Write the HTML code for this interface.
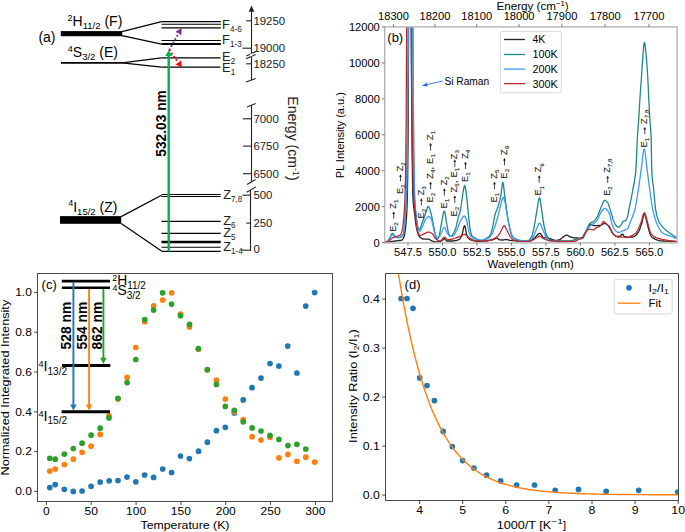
<!DOCTYPE html><html><head><meta charset="utf-8"><style>html,body{margin:0;padding:0;background:#fff;overflow:hidden}svg{display:block}text{font-family:"Liberation Sans",sans-serif}</style></head><body>
<svg width="685" height="532" viewBox="0 0 685 532">
<rect width="685" height="532" fill="#fff"/>
<rect x="60.8" y="31.1" width="61.4" height="5.1" fill="#000" />
<line x1="122" y1="31.6" x2="161.5" y2="21.7" stroke="#000" stroke-width="1.2" />
<line x1="122" y1="35.6" x2="161.5" y2="44.2" stroke="#000" stroke-width="1.2" />
<line x1="161.5" y1="21.6" x2="220.9" y2="21.6" stroke="#000" stroke-width="1.1" />
<line x1="161.5" y1="24.3" x2="220.9" y2="24.3" stroke="#000" stroke-width="1.1" />
<line x1="161.5" y1="27.8" x2="220.9" y2="27.8" stroke="#000" stroke-width="1.3" />
<line x1="161.5" y1="40.5" x2="220.9" y2="40.5" stroke="#000" stroke-width="1.2" />
<line x1="161.5" y1="44" x2="220.9" y2="44" stroke="#000" stroke-width="2" />
<line x1="61" y1="62.9" x2="122" y2="62.9" stroke="#000" stroke-width="1.6" />
<line x1="122" y1="62.9" x2="161.5" y2="57.8" stroke="#000" stroke-width="1.2" />
<line x1="122" y1="62.9" x2="161.5" y2="67.1" stroke="#000" stroke-width="1.2" />
<line x1="161.5" y1="57.8" x2="220.5" y2="57.8" stroke="#000" stroke-width="1.2" />
<line x1="161.5" y1="67.1" x2="220.5" y2="67.1" stroke="#000" stroke-width="1.2" />
<rect x="60" y="216.1" width="61.2" height="7.7" fill="#000" />
<line x1="121.2" y1="216.6" x2="161.5" y2="195.2" stroke="#000" stroke-width="1.2" />
<line x1="121.2" y1="223.4" x2="161.5" y2="251.1" stroke="#000" stroke-width="1.2" />
<line x1="161.5" y1="194.5" x2="220.7" y2="194.5" stroke="#000" stroke-width="1" />
<line x1="161.5" y1="196.5" x2="220.7" y2="196.5" stroke="#000" stroke-width="1" />
<line x1="161.5" y1="221.4" x2="220.7" y2="221.4" stroke="#000" stroke-width="1.1" />
<line x1="161.5" y1="233.4" x2="220.7" y2="233.4" stroke="#000" stroke-width="1.1" />
<line x1="161.5" y1="242.05" x2="220.7" y2="242.05" stroke="#000" stroke-width="2.4" />
<line x1="161.5" y1="247.3" x2="220.7" y2="247.3" stroke="#000" stroke-width="1.1" />
<line x1="161.5" y1="251.3" x2="220.7" y2="251.3" stroke="#000" stroke-width="1.2" />
<text x="38.4" y="42" font-size="14">(a)</text>
<text x="67.6" y="26.2" font-size="14"><tspan font-size="9" dy="-5.6">2</tspan><tspan dy="5.6">H</tspan><tspan font-size="9.5" dy="3.2">11/2</tspan><tspan dy="-3.2"> (F)</tspan></text>
<text x="67.8" y="57.1" font-size="14"><tspan font-size="9" dy="-5.6">4</tspan><tspan dy="5.6">S</tspan><tspan font-size="9.5" dy="3.2">3/2</tspan><tspan dy="-3.2"> (E)</tspan></text>
<text x="68.2" y="211.7" font-size="14"><tspan font-size="9" dy="-5.6">4</tspan><tspan dy="5.6">I</tspan><tspan font-size="9.5" dy="3.2">15/2</tspan><tspan dy="-3.2"> (Z)</tspan></text>
<text x="222.1" y="29" font-size="12.8" fill="#222">F<tspan font-size="8.2" dy="3">4-6</tspan></text>
<text x="222.1" y="43.6" font-size="12.8" fill="#222">F<tspan font-size="8.2" dy="3">1-3</tspan></text>
<text x="222.1" y="60.8" font-size="12.8" fill="#222">E<tspan font-size="8.2" dy="3">2</tspan></text>
<text x="222.1" y="72.4" font-size="12.8" fill="#222">E<tspan font-size="8.2" dy="3">1</tspan></text>
<text x="223.2" y="198.8" font-size="12.8" fill="#222">Z<tspan font-size="8.2" dy="3">7,8</tspan></text>
<text x="223.2" y="224.5" font-size="12.8" fill="#222">Z<tspan font-size="8.2" dy="3">6</tspan></text>
<text x="223.2" y="237.2" font-size="12.8" fill="#222">Z<tspan font-size="8.2" dy="3">5</tspan></text>
<text x="223.2" y="250.6" font-size="12.8" fill="#222">Z<tspan font-size="8.2" dy="3">1-4</tspan></text>
<line x1="251.5" y1="9" x2="251.5" y2="80.2" stroke="#222" stroke-width="1.1" />
<polygon points="248.7,11.8 254.3,11.8 251.5,5.6" fill="#222"/>
<line x1="246.2" y1="20.8" x2="251.2" y2="20.8" stroke="#222" stroke-width="1.1" />
<line x1="242.5" y1="48.2" x2="251.2" y2="48.2" stroke="#222" stroke-width="1.1" />
<line x1="246.2" y1="63.8" x2="251.2" y2="63.8" stroke="#222" stroke-width="1.1" />
<line x1="246.2" y1="56" x2="255.6" y2="51.8" stroke="#222" stroke-width="1.1" />
<line x1="246.2" y1="58.8" x2="255.6" y2="54.6" stroke="#222" stroke-width="1.1" />
<rect x="250" y="53.6" width="2.5" height="2.6" fill="#fff"/>
<line x1="246" y1="81.9" x2="255.7" y2="78.6" stroke="#222" stroke-width="1.1" />
<line x1="251.5" y1="105.2" x2="251.5" y2="181.5" stroke="#222" stroke-width="1.1" />
<line x1="247" y1="106.9" x2="255.7" y2="103.6" stroke="#222" stroke-width="1.1" />
<line x1="247" y1="184.4" x2="255.5" y2="179.6" stroke="#222" stroke-width="1.1" />
<line x1="243" y1="118.8" x2="251.3" y2="118.8" stroke="#222" stroke-width="1.1" />
<line x1="243" y1="146.1" x2="251.3" y2="146.1" stroke="#222" stroke-width="1.1" />
<line x1="243" y1="173.7" x2="251.3" y2="173.7" stroke="#222" stroke-width="1.1" />
<line x1="250.5" y1="190" x2="250.5" y2="250.7" stroke="#222" stroke-width="1.1" />
<line x1="246.6" y1="192.3" x2="255.9" y2="187" stroke="#222" stroke-width="1.1" />
<line x1="242.5" y1="195.2" x2="250" y2="195.2" stroke="#222" stroke-width="1.1" />
<line x1="246.3" y1="223.1" x2="250" y2="223.1" stroke="#222" stroke-width="1.1" />
<line x1="241.5" y1="250.2" x2="251" y2="250.2" stroke="#222" stroke-width="1.1" />
<text x="253.4" y="24.9" font-size="11.4" fill="#222">19250</text>
<text x="253.4" y="52.3" font-size="11.4" fill="#222">19000</text>
<text x="253.4" y="67.9" font-size="11.4" fill="#222">18250</text>
<text x="253.4" y="122.9" font-size="11.4" fill="#222">7000</text>
<text x="253.4" y="150.2" font-size="11.4" fill="#222">6750</text>
<text x="253.4" y="177.8" font-size="11.4" fill="#222">6500</text>
<text x="253.4" y="199.3" font-size="11.4" fill="#222">500</text>
<text x="253.4" y="227.2" font-size="11.4" fill="#222">250</text>
<text x="253.4" y="253.1" font-size="11.4" fill="#222">0</text>
<text transform="translate(287.6,96.3) rotate(90)" font-size="14" fill="#222">Energy (cm<tspan font-size="9" dy="-5">-1</tspan><tspan dy="5">)</tspan></text>
<line x1="168.7" y1="251.5" x2="168.7" y2="54.5" stroke="#00b050" stroke-width="2.4" />
<polygon points="165.2,55.9 172.2,55.9 168.7,50.4" fill="#00b050"/>
<text transform="translate(165.8,156.7) rotate(-90)" font-size="13.75" font-weight="bold">532.03 nm</text>
<polygon points="181.6,28 181.36,35.42 178.73,33.15 175.42,32.11" fill="#7030a0"/>
<line x1="169.6" y1="49.4" x2="178.73" y2="33.15" stroke="#7030a0" stroke-width="2.1" stroke-dasharray="0.01 3.9" stroke-linecap="round"/>
<polygon points="181.9,67.6 175.28,64.24 178.45,62.82 180.79,60.26" fill="#ff0000"/>
<line x1="169.6" y1="50.4" x2="178.45" y2="62.82" stroke="#ff0000" stroke-width="2.1" stroke-dasharray="0.01 3.9" stroke-linecap="round"/>
<defs><clipPath id="cb"><rect x="384.7" y="26.9" width="292.4" height="216"/></clipPath></defs>
<g clip-path="url(#cb)" fill="none" stroke-width="1.3" stroke-linejoin="round">
<path d="M384.7,242.4 L385.2,242.4 L385.7,242.3 L386.2,242.3 L386.7,242.2 L387.2,242.1 L387.7,242.1 L388.2,242.0 L388.7,242.0 L389.2,241.9 L389.7,241.8 L390.2,241.8 L390.7,241.7 L391.2,241.6 L391.7,241.5 L392.2,241.4 L392.7,241.4 L393.2,241.3 L393.7,241.2 L394.2,241.1 L394.7,241.0 L395.2,241.0 L395.7,240.9 L396.2,240.9 L396.7,240.8 L397.2,240.8 L397.7,240.7 L398.2,240.7 L398.7,240.6 L399.2,240.6 L399.7,240.5 L400.2,240.5 L400.7,240.4 L401.2,240.3 L401.7,240.2 L402.2,239.9 L402.7,239.3 L403.2,238.4 L403.7,237.4 L404.2,236.0 L404.7,234.0 L405.2,230.5 L405.7,226.1 L406.2,220.9 L406.7,213.8 L407.2,202.2 L407.7,176.3 L408.2,120.0 L408.7,-10.8 L409.2,-50.0 L409.7,-50.0 L410.2,-50.0 L410.7,-50.0 L411.2,27.0 L411.7,108.9 L412.2,159.5 L412.7,192.2 L413.2,201.6 L413.7,206.9 L414.2,210.7 L414.7,214.7 L415.2,218.9 L415.7,222.9 L416.2,226.3 L416.7,228.8 L417.2,231.0 L417.7,232.7 L418.2,234.0 L418.7,235.2 L419.2,236.2 L419.7,237.0 L420.2,237.5 L420.7,237.8 L421.2,238.1 L421.7,238.4 L422.2,238.7 L422.7,238.9 L423.2,239.0 L423.7,239.1 L424.2,239.1 L424.7,239.1 L425.2,239.1 L425.7,239.1 L426.2,239.1 L426.7,239.1 L427.2,239.1 L427.7,239.1 L428.2,239.1 L428.7,239.2 L429.2,239.4 L429.7,239.7 L430.2,240.0 L430.7,240.3 L431.2,240.6 L431.7,240.9 L432.2,241.1 L432.7,241.2 L433.2,241.4 L433.7,241.6 L434.2,241.7 L434.7,241.8 L435.2,241.9 L435.7,242.0 L436.2,242.0 L436.7,242.0 L437.2,241.9 L437.7,241.9 L438.2,241.8 L438.7,241.7 L439.2,241.7 L439.7,241.6 L440.2,241.5 L440.7,241.3 L441.2,241.0 L441.7,240.7 L442.2,240.4 L442.7,240.0 L443.2,239.5 L443.7,239.0 L444.2,238.7 L444.7,238.8 L445.2,239.3 L445.7,239.9 L446.2,240.5 L446.7,240.9 L447.2,241.0 L447.7,241.0 L448.2,241.0 L448.7,241.0 L449.2,241.0 L449.7,241.0 L450.2,241.0 L450.7,241.0 L451.2,241.0 L451.7,241.0 L452.2,241.0 L452.7,241.0 L453.2,240.9 L453.7,240.9 L454.2,240.8 L454.7,240.7 L455.2,240.6 L455.7,240.6 L456.2,240.5 L456.7,240.4 L457.2,240.2 L457.7,240.1 L458.2,239.9 L458.7,239.7 L459.2,239.4 L459.7,239.0 L460.2,238.4 L460.7,237.7 L461.2,236.8 L461.7,235.9 L462.2,234.3 L462.7,232.1 L463.2,229.7 L463.7,227.6 L464.2,226.1 L464.7,225.7 L465.2,227.0 L465.7,229.5 L466.2,232.4 L466.7,234.9 L467.2,236.3 L467.7,237.1 L468.2,237.8 L468.7,238.4 L469.2,238.9 L469.7,239.3 L470.2,239.6 L470.7,239.8 L471.2,240.0 L471.7,240.1 L472.2,240.3 L472.7,240.4 L473.2,240.5 L473.7,240.6 L474.2,240.8 L474.7,240.9 L475.2,241.0 L475.7,241.1 L476.2,241.2 L476.7,241.2 L477.2,241.3 L477.7,241.3 L478.2,241.3 L478.7,241.3 L479.2,241.3 L479.7,241.3 L480.2,241.3 L480.7,241.3 L481.2,241.2 L481.7,241.2 L482.2,241.2 L482.7,241.2 L483.2,241.2 L483.7,241.1 L484.2,241.1 L484.7,241.1 L485.2,241.1 L485.7,241.0 L486.2,241.0 L486.7,240.9 L487.2,240.8 L487.7,240.7 L488.2,240.6 L488.7,240.5 L489.2,240.4 L489.7,240.3 L490.2,240.2 L490.7,240.1 L491.2,240.0 L491.7,239.9 L492.2,239.8 L492.7,239.7 L493.2,239.6 L493.7,239.4 L494.2,239.2 L494.7,238.9 L495.2,238.6 L495.7,238.4 L496.2,238.2 L496.7,238.1 L497.2,238.2 L497.7,238.6 L498.2,239.0 L498.7,239.4 L499.2,239.7 L499.7,239.8 L500.2,239.9 L500.7,239.9 L501.2,239.9 L501.7,240.0 L502.2,240.0 L502.7,240.0 L503.2,240.0 L503.7,239.9 L504.2,239.8 L504.7,239.7 L505.2,239.6 L505.7,239.5 L506.2,239.5 L506.7,239.6 L507.2,239.6 L507.7,239.8 L508.2,239.9 L508.7,240.0 L509.2,240.1 L509.7,240.3 L510.2,240.3 L510.7,240.4 L511.2,240.4 L511.7,240.5 L512.2,240.6 L512.7,240.6 L513.2,240.6 L513.7,240.7 L514.2,240.7 L514.7,240.8 L515.2,240.8 L515.7,240.9 L516.2,240.9 L516.7,241.0 L517.2,241.0 L517.7,241.1 L518.2,241.1 L518.7,241.1 L519.2,241.2 L519.7,241.2 L520.2,241.2 L520.7,241.3 L521.2,241.3 L521.7,241.3 L522.2,241.3 L522.7,241.3 L523.2,241.3 L523.7,241.3 L524.2,241.3 L524.7,241.3 L525.2,241.3 L525.7,241.2 L526.2,241.2 L526.7,241.2 L527.2,241.2 L527.7,241.2 L528.2,241.1 L528.7,241.1 L529.2,241.1 L529.7,241.0 L530.2,241.0 L530.7,240.8 L531.2,240.6 L531.7,240.2 L532.2,239.8 L532.7,239.4 L533.2,239.0 L533.7,238.5 L534.2,238.1 L534.7,237.7 L535.2,237.2 L535.7,236.7 L536.2,236.3 L536.7,235.8 L537.2,235.3 L537.7,234.8 L538.2,234.2 L538.7,233.7 L539.2,233.4 L539.7,233.3 L540.2,233.6 L540.7,234.0 L541.2,234.5 L541.7,235.1 L542.2,235.8 L542.7,236.8 L543.2,237.7 L543.7,238.0 L544.2,237.9 L544.7,237.7 L545.2,237.6 L545.7,237.5 L546.2,237.5 L546.7,237.6 L547.2,237.7 L547.7,237.8 L548.2,238.0 L548.7,238.1 L549.2,238.3 L549.7,238.5 L550.2,238.7 L550.7,238.9 L551.2,239.2 L551.7,239.4 L552.2,239.6 L552.7,239.7 L553.2,239.9 L553.7,240.0 L554.2,240.2 L554.7,240.3 L555.2,240.3 L555.7,240.4 L556.2,240.4 L556.7,240.4 L557.2,240.3 L557.7,240.2 L558.2,240.1 L558.7,239.9 L559.2,239.8 L559.7,239.6 L560.2,239.4 L560.7,239.1 L561.2,238.6 L561.7,238.1 L562.2,237.7 L562.7,237.2 L563.2,236.9 L563.7,236.5 L564.2,236.2 L564.7,235.9 L565.2,235.6 L565.7,235.3 L566.2,235.2 L566.7,235.1 L567.2,235.2 L567.7,235.4 L568.2,235.7 L568.7,236.0 L569.2,236.4 L569.7,236.7 L570.2,236.9 L570.7,237.0 L571.2,237.2 L571.7,237.3 L572.2,237.5 L572.7,237.6 L573.2,237.7 L573.7,237.8 L574.2,237.8 L574.7,237.9 L575.2,237.9 L575.7,237.9 L576.2,238.0 L576.7,238.0 L577.2,238.0 L577.7,238.1 L578.2,238.1 L578.7,238.2 L579.2,238.3 L579.7,238.3 L580.2,238.4 L580.7,238.5 L581.2,238.6 L581.7,238.6 L582.2,238.6 L582.7,238.3 L583.2,237.6 L583.7,236.8 L584.2,235.8 L584.7,234.7 L585.2,233.6 L585.7,232.5 L586.2,231.6 L586.7,230.6 L587.2,229.6 L587.7,228.4 L588.2,227.2 L588.7,226.1 L589.2,225.2 L589.7,224.5 L590.2,224.1 L590.7,224.2 L591.2,224.4 L591.7,224.8 L592.2,225.1 L592.7,225.2 L593.2,225.3 L593.7,225.4 L594.2,225.5 L594.7,225.6 L595.2,225.6 L595.7,225.7 L596.2,225.7 L596.7,225.7 L597.2,225.7 L597.7,225.7 L598.2,225.6 L598.7,225.5 L599.2,225.5 L599.7,225.4 L600.2,225.3 L600.7,225.2 L601.2,225.0 L601.7,224.8 L602.2,224.5 L602.7,224.2 L603.2,223.9 L603.7,223.7 L604.2,223.6 L604.7,223.6 L605.2,223.7 L605.7,223.8 L606.2,224.0 L606.7,224.2 L607.2,224.6 L607.7,225.1 L608.2,225.7 L608.7,226.5 L609.2,227.2 L609.7,228.1 L610.2,228.8 L610.7,229.6 L611.2,230.5 L611.7,231.4 L612.2,232.4 L612.7,233.3 L613.2,234.1 L613.7,234.6 L614.2,235.0 L614.7,235.4 L615.2,235.8 L615.7,236.1 L616.2,236.3 L616.7,236.5 L617.2,236.5 L617.7,236.5 L618.2,236.4 L618.7,236.4 L619.2,236.3 L619.7,236.2 L620.2,236.1 L620.7,235.8 L621.2,235.2 L621.7,234.5 L622.2,234.1 L622.7,234.1 L623.2,234.8 L623.7,235.6 L624.2,236.3 L624.7,236.6 L625.2,236.7 L625.7,236.8 L626.2,236.9 L626.7,237.0 L627.2,237.1 L627.7,237.1 L628.2,237.1 L628.7,237.1 L629.2,237.1 L629.7,237.1 L630.2,237.1 L630.7,237.0 L631.2,237.0 L631.7,237.0 L632.2,237.0 L632.7,236.9 L633.2,236.9 L633.7,236.7 L634.2,236.5 L634.7,236.2 L635.2,235.8 L635.7,235.4 L636.2,234.9 L636.7,234.3 L637.2,233.8 L637.7,233.1 L638.2,232.5 L638.7,231.6 L639.2,230.5 L639.7,229.2 L640.2,227.8 L640.7,226.4 L641.2,224.8 L641.7,223.3 L642.2,221.5 L642.7,219.2 L643.2,216.8 L643.7,214.8 L644.2,213.6 L644.7,213.7 L645.2,214.9 L645.7,216.8 L646.2,219.1 L646.7,221.4 L647.2,223.4 L647.7,225.4 L648.2,227.5 L648.7,229.5 L649.2,231.4 L649.7,232.9 L650.2,234.2 L650.7,235.3 L651.2,236.2 L651.7,236.9 L652.2,237.4 L652.7,237.8 L653.2,238.1 L653.7,238.4 L654.2,238.7 L654.7,238.9 L655.2,239.2 L655.7,239.4 L656.2,239.6 L656.7,239.8 L657.2,240.0 L657.7,240.2 L658.2,240.4 L658.7,240.5 L659.2,240.7 L659.7,240.8 L660.2,240.8 L660.7,240.9 L661.2,240.9 L661.7,240.9 L662.2,241.0 L662.7,241.0 L663.2,241.0 L663.7,241.0 L664.2,241.1 L664.7,241.1 L665.2,241.1 L665.7,241.1 L666.2,241.1 L666.7,241.1 L667.2,241.2 L667.7,241.2 L668.2,241.2 L668.7,241.2 L669.2,241.3 L669.7,241.3 L670.2,241.3 L670.7,241.3 L671.2,241.3 L671.7,241.4 L672.2,241.4 L672.7,241.4 L673.2,241.4 L673.7,241.5 L674.2,241.5 L674.7,241.5 L675.2,241.5 L675.7,241.5 L676.2,241.6 L676.7,241.6" stroke="#222222"/>
<path d="M384.7,242.0 L385.2,242.0 L385.7,241.8 L386.2,241.7 L386.7,241.4 L387.2,241.2 L387.7,240.9 L388.2,240.3 L388.7,239.6 L389.2,238.8 L389.7,238.0 L390.2,237.2 L390.7,236.1 L391.2,235.0 L391.7,234.0 L392.2,233.4 L392.7,233.4 L393.2,233.9 L393.7,234.7 L394.2,235.5 L394.7,236.0 L395.2,236.3 L395.7,236.7 L396.2,236.9 L396.7,237.0 L397.2,237.2 L397.7,237.2 L398.2,237.3 L398.7,237.3 L399.2,237.3 L399.7,237.2 L400.2,237.1 L400.7,236.9 L401.2,236.7 L401.7,236.3 L402.2,235.8 L402.7,235.3 L403.2,234.5 L403.7,232.6 L404.2,229.4 L404.7,225.0 L405.2,218.3 L405.7,210.8 L406.2,202.3 L406.7,187.7 L407.2,157.7 L407.7,101.1 L408.2,39.3 L408.7,-50.0 L409.2,-50.0 L409.7,-50.0 L410.2,-50.0 L410.7,-50.0 L411.2,-50.0 L411.7,-50.0 L412.2,-50.0 L412.7,-20.0 L413.2,84.1 L413.7,150.0 L414.2,183.8 L414.7,199.2 L415.2,206.8 L415.7,212.0 L416.2,216.6 L416.7,220.8 L417.2,224.3 L417.7,226.7 L418.2,228.1 L418.7,229.1 L419.2,229.7 L419.7,229.5 L420.2,228.3 L420.7,226.8 L421.2,225.5 L421.7,224.1 L422.2,222.7 L422.7,221.3 L423.2,219.9 L423.7,218.6 L424.2,217.3 L424.7,215.9 L425.2,214.6 L425.7,213.2 L426.2,211.6 L426.7,209.9 L427.2,208.3 L427.7,207.1 L428.2,206.5 L428.7,206.7 L429.2,207.6 L429.7,208.9 L430.2,210.6 L430.7,212.4 L431.2,214.2 L431.7,216.4 L432.2,219.0 L432.7,221.7 L433.2,224.2 L433.7,226.7 L434.2,229.3 L434.7,231.6 L435.2,233.7 L435.7,235.4 L436.2,237.2 L436.7,238.5 L437.2,239.1 L437.7,238.8 L438.2,237.9 L438.7,236.8 L439.2,235.4 L439.7,233.3 L440.2,230.6 L440.7,227.6 L441.2,224.7 L441.7,222.2 L442.2,219.4 L442.7,216.6 L443.2,213.9 L443.7,212.0 L444.2,211.0 L444.7,211.7 L445.2,214.1 L445.7,217.4 L446.2,220.9 L446.7,223.7 L447.2,226.4 L447.7,229.3 L448.2,231.8 L448.7,233.7 L449.2,234.7 L449.7,235.4 L450.2,236.0 L450.7,236.3 L451.2,236.4 L451.7,236.0 L452.2,235.3 L452.7,234.5 L453.2,233.7 L453.7,232.8 L454.2,231.9 L454.7,230.8 L455.2,229.6 L455.7,228.2 L456.2,226.4 L456.7,224.4 L457.2,222.1 L457.7,219.8 L458.2,217.7 L458.7,215.9 L459.2,214.4 L459.7,213.0 L460.2,211.3 L460.7,208.9 L461.2,205.5 L461.7,201.7 L462.2,198.3 L462.7,195.0 L463.2,191.4 L463.7,188.3 L464.2,186.1 L464.7,185.5 L465.2,186.9 L465.7,189.8 L466.2,193.6 L466.7,197.5 L467.2,202.0 L467.7,207.4 L468.2,212.4 L468.7,217.4 L469.2,222.1 L469.7,226.3 L470.2,229.3 L470.7,231.8 L471.2,234.0 L471.7,235.5 L472.2,236.2 L472.7,236.7 L473.2,237.0 L473.7,237.3 L474.2,237.5 L474.7,237.7 L475.2,238.0 L475.7,238.3 L476.2,238.6 L476.7,239.0 L477.2,239.3 L477.7,239.6 L478.2,239.9 L478.7,240.1 L479.2,240.2 L479.7,240.3 L480.2,240.5 L480.7,240.6 L481.2,240.7 L481.7,240.7 L482.2,240.8 L482.7,240.8 L483.2,240.6 L483.7,240.2 L484.2,239.7 L484.7,239.3 L485.2,239.0 L485.7,238.7 L486.2,238.4 L486.7,238.1 L487.2,237.8 L487.7,237.5 L488.2,237.1 L488.7,236.7 L489.2,236.2 L489.7,235.7 L490.2,234.9 L490.7,233.7 L491.2,232.3 L491.7,230.6 L492.2,228.7 L492.7,226.8 L493.2,224.3 L493.7,221.5 L494.2,218.6 L494.7,216.0 L495.2,214.1 L495.7,212.6 L496.2,211.3 L496.7,210.0 L497.2,208.7 L497.7,207.3 L498.2,205.9 L498.7,204.3 L499.2,202.6 L499.7,200.7 L500.2,198.6 L500.7,196.2 L501.2,193.4 L501.7,189.1 L502.2,184.7 L502.7,182.3 L503.2,183.3 L503.7,186.8 L504.2,191.3 L504.7,195.4 L505.2,199.4 L505.7,203.4 L506.2,207.2 L506.7,210.6 L507.2,213.9 L507.7,217.1 L508.2,220.2 L508.7,223.0 L509.2,225.7 L509.7,228.1 L510.2,230.4 L510.7,232.6 L511.2,234.4 L511.7,235.6 L512.2,236.5 L512.7,237.2 L513.2,237.7 L513.7,238.1 L514.2,238.5 L514.7,238.8 L515.2,239.0 L515.7,239.2 L516.2,239.4 L516.7,239.6 L517.2,239.8 L517.7,239.9 L518.2,240.1 L518.7,240.3 L519.2,240.4 L519.7,240.5 L520.2,240.5 L520.7,240.6 L521.2,240.6 L521.7,240.7 L522.2,240.7 L522.7,240.7 L523.2,240.8 L523.7,240.8 L524.2,240.8 L524.7,240.8 L525.2,240.8 L525.7,240.8 L526.2,240.8 L526.7,240.7 L527.2,240.7 L527.7,240.6 L528.2,240.6 L528.7,240.4 L529.2,240.0 L529.7,239.5 L530.2,238.9 L530.7,238.1 L531.2,237.3 L531.7,236.4 L532.2,235.2 L532.7,233.4 L533.2,231.3 L533.7,229.0 L534.2,226.6 L534.7,224.0 L535.2,221.1 L535.7,217.9 L536.2,214.7 L536.7,211.7 L537.2,208.9 L537.7,205.6 L538.2,202.4 L538.7,199.7 L539.2,198.0 L539.7,197.9 L540.2,199.7 L540.7,202.7 L541.2,206.4 L541.7,210.0 L542.2,213.3 L542.7,216.9 L543.2,220.6 L543.7,224.0 L544.2,226.5 L544.7,228.7 L545.2,230.7 L545.7,232.5 L546.2,234.0 L546.7,235.4 L547.2,236.4 L547.7,237.2 L548.2,238.0 L548.7,238.6 L549.2,239.1 L549.7,239.4 L550.2,239.7 L550.7,240.0 L551.2,240.3 L551.7,240.5 L552.2,240.6 L552.7,240.6 L553.2,240.7 L553.7,240.7 L554.2,240.8 L554.7,240.8 L555.2,240.8 L555.7,240.9 L556.2,240.9 L556.7,240.9 L557.2,240.9 L557.7,241.0 L558.2,241.0 L558.7,241.0 L559.2,241.0 L559.7,241.0 L560.2,241.0 L560.7,241.0 L561.2,241.0 L561.7,241.0 L562.2,241.0 L562.7,241.0 L563.2,241.0 L563.7,241.0 L564.2,241.0 L564.7,241.0 L565.2,240.9 L565.7,240.9 L566.2,240.9 L566.7,240.9 L567.2,240.9 L567.7,240.9 L568.2,240.9 L568.7,240.8 L569.2,240.8 L569.7,240.8 L570.2,240.8 L570.7,240.7 L571.2,240.7 L571.7,240.6 L572.2,240.5 L572.7,240.3 L573.2,240.2 L573.7,240.0 L574.2,239.9 L574.7,239.7 L575.2,239.5 L575.7,239.3 L576.2,239.2 L576.7,239.0 L577.2,238.8 L577.7,238.7 L578.2,238.5 L578.7,238.4 L579.2,238.3 L579.7,238.2 L580.2,238.1 L580.7,238.0 L581.2,237.9 L581.7,237.7 L582.2,237.5 L582.7,237.0 L583.2,236.4 L583.7,235.5 L584.2,234.5 L584.7,233.5 L585.2,232.5 L585.7,231.4 L586.2,230.5 L586.7,229.6 L587.2,228.6 L587.7,227.6 L588.2,226.5 L588.7,225.5 L589.2,224.6 L589.7,223.9 L590.2,223.3 L590.7,222.9 L591.2,222.6 L591.7,222.4 L592.2,222.2 L592.7,222.0 L593.2,221.7 L593.7,221.4 L594.2,220.9 L594.7,220.4 L595.2,219.8 L595.7,219.2 L596.2,218.5 L596.7,217.7 L597.2,216.8 L597.7,215.7 L598.2,214.5 L598.7,213.2 L599.2,211.9 L599.7,210.7 L600.2,209.5 L600.7,208.3 L601.2,207.1 L601.7,205.9 L602.2,204.7 L602.7,203.6 L603.2,202.4 L603.7,201.2 L604.2,200.4 L604.7,200.3 L605.2,200.5 L605.7,200.8 L606.2,201.1 L606.7,201.6 L607.2,202.1 L607.7,202.7 L608.2,203.6 L608.7,204.9 L609.2,206.5 L609.7,208.1 L610.2,209.8 L610.7,211.3 L611.2,213.0 L611.7,214.9 L612.2,216.7 L612.7,218.4 L613.2,220.0 L613.7,221.2 L614.2,222.3 L614.7,223.3 L615.2,224.2 L615.7,225.0 L616.2,225.7 L616.7,226.2 L617.2,226.6 L617.7,227.0 L618.2,227.2 L618.7,227.1 L619.2,226.9 L619.7,226.5 L620.2,226.0 L620.7,225.5 L621.2,224.9 L621.7,224.1 L622.2,222.8 L622.7,221.7 L623.2,221.4 L623.7,221.3 L624.2,221.2 L624.7,221.1 L625.2,220.9 L625.7,220.4 L626.2,219.7 L626.7,218.8 L627.2,217.7 L627.7,216.3 L628.2,213.8 L628.7,210.9 L629.2,208.2 L629.7,205.7 L630.2,203.3 L630.7,200.8 L631.2,198.4 L631.7,195.9 L632.2,193.3 L632.7,190.5 L633.2,187.7 L633.7,185.2 L634.2,182.6 L634.7,179.7 L635.2,176.2 L635.7,171.8 L636.2,164.9 L636.7,152.6 L637.2,140.5 L637.7,132.5 L638.2,126.1 L638.7,119.4 L639.2,111.2 L639.7,102.2 L640.2,94.2 L640.7,87.3 L641.2,80.7 L641.7,73.5 L642.2,65.6 L642.7,58.2 L643.2,52.1 L643.7,46.3 L644.2,42.6 L644.7,42.8 L645.2,45.9 L645.7,50.6 L646.2,55.7 L646.7,61.4 L647.2,68.5 L647.7,76.5 L648.2,86.5 L648.7,97.2 L649.2,107.0 L649.7,116.2 L650.2,123.2 L650.7,129.0 L651.2,138.6 L651.7,169.7 L652.2,177.4 L652.7,182.0 L653.2,185.3 L653.7,189.4 L654.2,195.0 L654.7,200.9 L655.2,206.1 L655.7,209.8 L656.2,212.5 L656.7,214.9 L657.2,216.9 L657.7,218.6 L658.2,220.1 L658.7,221.2 L659.2,222.2 L659.7,223.1 L660.2,223.9 L660.7,224.6 L661.2,225.3 L661.7,225.9 L662.2,226.5 L662.7,227.1 L663.2,227.6 L663.7,228.1 L664.2,228.6 L664.7,229.1 L665.2,229.5 L665.7,230.0 L666.2,230.4 L666.7,230.8 L667.2,231.2 L667.7,231.6 L668.2,231.9 L668.7,232.3 L669.2,232.7 L669.7,233.0 L670.2,233.4 L670.7,233.8 L671.2,234.1 L671.7,234.5 L672.2,234.8 L672.7,235.1 L673.2,235.5 L673.7,235.8 L674.2,236.1 L674.7,236.4 L675.2,236.7 L675.7,237.0 L676.2,237.3 L676.7,237.6" stroke="#1c8985"/>
<path d="M384.7,242.1 L385.2,242.1 L385.7,242.0 L386.2,241.8 L386.7,241.6 L387.2,241.4 L387.7,241.1 L388.2,240.6 L388.7,239.9 L389.2,239.2 L389.7,238.4 L390.2,237.7 L390.7,236.8 L391.2,235.9 L391.7,235.1 L392.2,234.6 L392.7,234.5 L393.2,235.0 L393.7,235.6 L394.2,236.2 L394.7,236.6 L395.2,236.9 L395.7,237.2 L396.2,237.4 L396.7,237.5 L397.2,237.7 L397.7,237.7 L398.2,237.8 L398.7,237.8 L399.2,237.7 L399.7,237.6 L400.2,237.4 L400.7,237.2 L401.2,236.9 L401.7,236.5 L402.2,236.0 L402.7,235.4 L403.2,234.5 L403.7,232.6 L404.2,229.4 L404.7,225.0 L405.2,218.3 L405.7,210.8 L406.2,202.3 L406.7,187.7 L407.2,157.7 L407.7,101.1 L408.2,39.2 L408.7,-50.0 L409.2,-50.0 L409.7,-50.0 L410.2,-50.0 L410.7,-50.0 L411.2,-50.0 L411.7,-50.0 L412.2,-50.0 L412.7,-21.2 L413.2,84.2 L413.7,150.0 L414.2,183.8 L414.7,199.2 L415.2,206.7 L415.7,211.9 L416.2,216.7 L416.7,221.2 L417.2,225.0 L417.7,227.6 L418.2,229.0 L418.7,230.2 L419.2,231.0 L419.7,231.2 L420.2,230.9 L420.7,230.2 L421.2,229.3 L421.7,228.2 L422.2,227.1 L422.7,226.0 L423.2,224.9 L423.7,223.6 L424.2,222.2 L424.7,220.9 L425.2,219.9 L425.7,219.1 L426.2,218.5 L426.7,217.9 L427.2,217.3 L427.7,216.9 L428.2,216.5 L428.7,216.4 L429.2,216.5 L429.7,216.9 L430.2,217.6 L430.7,218.4 L431.2,219.5 L431.7,220.6 L432.2,221.9 L432.7,224.1 L433.2,226.9 L433.7,229.5 L434.2,231.4 L434.7,233.0 L435.2,234.6 L435.7,235.9 L436.2,236.9 L436.7,237.5 L437.2,238.0 L437.7,238.2 L438.2,238.0 L438.7,237.5 L439.2,236.9 L439.7,236.2 L440.2,235.3 L440.7,234.3 L441.2,233.2 L441.7,232.2 L442.2,231.0 L442.7,229.8 L443.2,228.7 L443.7,227.8 L444.2,227.4 L444.7,227.6 L445.2,228.4 L445.7,229.6 L446.2,230.9 L446.7,232.1 L447.2,232.9 L447.7,233.7 L448.2,234.5 L448.7,235.2 L449.2,235.8 L449.7,236.2 L450.2,236.3 L450.7,236.4 L451.2,236.5 L451.7,236.5 L452.2,236.4 L452.7,236.2 L453.2,236.0 L453.7,235.6 L454.2,234.9 L454.7,234.1 L455.2,233.2 L455.7,232.2 L456.2,231.1 L456.7,230.0 L457.2,229.0 L457.7,227.9 L458.2,226.7 L458.7,225.4 L459.2,224.1 L459.7,222.8 L460.2,221.6 L460.7,220.5 L461.2,219.7 L461.7,218.8 L462.2,218.0 L462.7,217.3 L463.2,216.6 L463.7,216.2 L464.2,216.0 L464.7,216.2 L465.2,216.9 L465.7,217.9 L466.2,219.2 L466.7,220.7 L467.2,223.0 L467.7,225.9 L468.2,228.4 L468.7,230.3 L469.2,232.1 L469.7,233.8 L470.2,235.1 L470.7,236.0 L471.2,236.6 L471.7,237.1 L472.2,237.5 L472.7,237.8 L473.2,238.1 L473.7,238.4 L474.2,238.6 L474.7,238.8 L475.2,238.9 L475.7,239.1 L476.2,239.2 L476.7,239.3 L477.2,239.5 L477.7,239.6 L478.2,239.7 L478.7,239.8 L479.2,239.9 L479.7,240.0 L480.2,240.0 L480.7,240.0 L481.2,240.0 L481.7,239.9 L482.2,239.9 L482.7,239.8 L483.2,239.8 L483.7,239.7 L484.2,239.7 L484.7,239.6 L485.2,239.5 L485.7,239.5 L486.2,239.4 L486.7,239.2 L487.2,239.0 L487.7,238.7 L488.2,238.3 L488.7,238.0 L489.2,237.5 L489.7,237.1 L490.2,236.5 L490.7,236.0 L491.2,235.4 L491.7,234.7 L492.2,233.7 L492.7,232.5 L493.2,231.2 L493.7,229.8 L494.2,228.4 L494.7,227.0 L495.2,225.6 L495.7,224.0 L496.2,222.3 L496.7,220.6 L497.2,218.8 L497.7,217.0 L498.2,215.1 L498.7,213.3 L499.2,211.2 L499.7,209.1 L500.2,207.0 L500.7,205.1 L501.2,203.3 L501.7,201.4 L502.2,199.5 L502.7,198.0 L503.2,197.3 L503.7,197.7 L504.2,199.0 L504.7,200.9 L505.2,203.0 L505.7,205.6 L506.2,209.1 L506.7,212.5 L507.2,215.5 L507.7,218.4 L508.2,221.1 L508.7,223.7 L509.2,226.0 L509.7,228.0 L510.2,229.8 L510.7,231.5 L511.2,233.1 L511.7,234.4 L512.2,235.4 L512.7,236.2 L513.2,236.9 L513.7,237.5 L514.2,238.0 L514.7,238.3 L515.2,238.7 L515.7,238.9 L516.2,239.2 L516.7,239.4 L517.2,239.5 L517.7,239.7 L518.2,239.9 L518.7,240.0 L519.2,240.2 L519.7,240.3 L520.2,240.4 L520.7,240.5 L521.2,240.6 L521.7,240.6 L522.2,240.6 L522.7,240.6 L523.2,240.6 L523.7,240.6 L524.2,240.6 L524.7,240.6 L525.2,240.6 L525.7,240.6 L526.2,240.6 L526.7,240.6 L527.2,240.6 L527.7,240.6 L528.2,240.6 L528.7,240.6 L529.2,240.6 L529.7,240.4 L530.2,240.1 L530.7,239.7 L531.2,239.2 L531.7,238.6 L532.2,237.9 L532.7,237.2 L533.2,236.5 L533.7,235.7 L534.2,234.7 L534.7,233.5 L535.2,232.2 L535.7,230.9 L536.2,229.7 L536.7,228.6 L537.2,227.3 L537.7,226.0 L538.2,224.9 L538.7,223.9 L539.2,223.3 L539.7,223.2 L540.2,223.7 L540.7,224.6 L541.2,225.8 L541.7,227.1 L542.2,228.3 L542.7,229.4 L543.2,230.6 L543.7,231.8 L544.2,233.0 L544.7,234.2 L545.2,235.3 L545.7,236.4 L546.2,237.5 L546.7,238.7 L547.2,239.7 L547.7,240.4 L548.2,240.6 L548.7,240.7 L549.2,240.8 L549.7,240.8 L550.2,240.9 L550.7,240.9 L551.2,241.0 L551.7,241.0 L552.2,241.1 L552.7,241.1 L553.2,241.1 L553.7,241.1 L554.2,241.2 L554.7,241.2 L555.2,241.2 L555.7,241.2 L556.2,241.3 L556.7,241.3 L557.2,241.3 L557.7,241.3 L558.2,241.3 L558.7,241.3 L559.2,241.3 L559.7,241.3 L560.2,241.3 L560.7,241.3 L561.2,241.3 L561.7,241.3 L562.2,241.3 L562.7,241.3 L563.2,241.3 L563.7,241.3 L564.2,241.3 L564.7,241.3 L565.2,241.3 L565.7,241.3 L566.2,241.3 L566.7,241.3 L567.2,241.3 L567.7,241.3 L568.2,241.3 L568.7,241.3 L569.2,241.3 L569.7,241.3 L570.2,241.3 L570.7,241.3 L571.2,241.3 L571.7,241.2 L572.2,241.2 L572.7,241.2 L573.2,241.2 L573.7,241.2 L574.2,241.2 L574.7,241.2 L575.2,241.2 L575.7,241.0 L576.2,240.7 L576.7,240.4 L577.2,240.0 L577.7,239.7 L578.2,239.4 L578.7,239.2 L579.2,239.1 L579.7,238.9 L580.2,238.8 L580.7,238.6 L581.2,238.4 L581.7,238.2 L582.2,237.9 L582.7,237.3 L583.2,236.6 L583.7,235.8 L584.2,234.9 L584.7,233.9 L585.2,232.9 L585.7,232.0 L586.2,231.1 L586.7,230.4 L587.2,229.7 L587.7,229.0 L588.2,228.3 L588.7,227.6 L589.2,227.0 L589.7,226.4 L590.2,225.9 L590.7,225.4 L591.2,225.1 L591.7,224.7 L592.2,224.4 L592.7,224.1 L593.2,223.7 L593.7,223.4 L594.2,223.0 L594.7,222.6 L595.2,222.3 L595.7,221.9 L596.2,221.4 L596.7,220.9 L597.2,220.1 L597.7,219.2 L598.2,218.1 L598.7,216.9 L599.2,215.7 L599.7,214.6 L600.2,213.6 L600.7,212.8 L601.2,212.1 L601.7,211.4 L602.2,210.7 L602.7,210.0 L603.2,209.4 L603.7,208.9 L604.2,208.6 L604.7,208.4 L605.2,208.4 L605.7,208.6 L606.2,209.0 L606.7,209.4 L607.2,210.0 L607.7,210.7 L608.2,211.5 L608.7,212.3 L609.2,213.2 L609.7,214.7 L610.2,216.8 L610.7,219.1 L611.2,221.3 L611.7,223.2 L612.2,224.6 L612.7,225.8 L613.2,227.0 L613.7,228.0 L614.2,228.9 L614.7,229.7 L615.2,230.3 L615.7,230.8 L616.2,231.3 L616.7,231.7 L617.2,232.0 L617.7,232.3 L618.2,232.4 L618.7,232.4 L619.2,232.3 L619.7,232.2 L620.2,232.0 L620.7,231.8 L621.2,231.5 L621.7,231.3 L622.2,231.1 L622.7,230.9 L623.2,230.7 L623.7,230.5 L624.2,230.3 L624.7,230.1 L625.2,229.9 L625.7,229.7 L626.2,229.5 L626.7,229.3 L627.2,229.0 L627.7,228.6 L628.2,227.8 L628.7,226.6 L629.2,225.2 L629.7,223.8 L630.2,222.5 L630.7,221.3 L631.2,220.0 L631.7,218.8 L632.2,217.6 L632.7,216.2 L633.2,214.8 L633.7,213.3 L634.2,211.7 L634.7,210.0 L635.2,208.0 L635.7,205.6 L636.2,203.0 L636.7,200.1 L637.2,197.0 L637.7,193.9 L638.2,190.7 L638.7,187.5 L639.2,184.1 L639.7,180.5 L640.2,176.9 L640.7,173.3 L641.2,169.7 L641.7,165.7 L642.2,161.2 L642.7,156.7 L643.2,152.7 L643.7,150.0 L644.2,148.9 L644.7,150.0 L645.2,152.9 L645.7,157.1 L646.2,161.8 L646.7,166.4 L647.2,170.4 L647.7,174.2 L648.2,178.1 L648.7,182.0 L649.2,185.8 L649.7,189.4 L650.2,193.0 L650.7,196.6 L651.2,200.2 L651.7,203.6 L652.2,206.6 L652.7,209.2 L653.2,211.5 L653.7,213.6 L654.2,215.6 L654.7,217.4 L655.2,219.1 L655.7,220.7 L656.2,222.0 L656.7,223.2 L657.2,224.4 L657.7,225.5 L658.2,226.5 L658.7,227.5 L659.2,228.5 L659.7,229.3 L660.2,230.2 L660.7,230.9 L661.2,231.6 L661.7,232.1 L662.2,232.6 L662.7,233.0 L663.2,233.3 L663.7,233.6 L664.2,233.9 L664.7,234.1 L665.2,234.3 L665.7,234.5 L666.2,234.7 L666.7,234.9 L667.2,235.1 L667.7,235.3 L668.2,235.4 L668.7,235.6 L669.2,235.7 L669.7,235.9 L670.2,236.1 L670.7,236.2 L671.2,236.4 L671.7,236.6 L672.2,236.8 L672.7,237.0 L673.2,237.2 L673.7,237.4 L674.2,237.6 L674.7,237.8 L675.2,238.1 L675.7,238.3 L676.2,238.5 L676.7,238.7" stroke="#3a9af8"/>
<path d="M384.7,242.2 L385.2,242.2 L385.7,242.1 L386.2,242.0 L386.7,241.9 L387.2,241.8 L387.7,241.6 L388.2,241.4 L388.7,241.1 L389.2,240.7 L389.7,240.2 L390.2,239.7 L390.7,239.3 L391.2,238.8 L391.7,238.4 L392.2,238.0 L392.7,237.7 L393.2,237.5 L393.7,237.4 L394.2,237.2 L394.7,237.1 L395.2,236.9 L395.7,236.8 L396.2,236.6 L396.7,236.5 L397.2,236.3 L397.7,236.1 L398.2,235.9 L398.7,235.7 L399.2,235.5 L399.7,235.3 L400.2,235.0 L400.7,234.6 L401.2,233.9 L401.7,232.4 L402.2,230.4 L402.7,227.9 L403.2,224.2 L403.7,218.9 L404.2,212.5 L404.7,204.5 L405.2,191.8 L405.7,165.9 L406.2,120.0 L406.7,1.5 L407.2,-50.0 L407.7,-50.0 L408.2,-50.0 L408.7,-50.0 L409.2,-50.0 L409.7,-50.0 L410.2,-50.0 L410.7,-50.0 L411.2,8.1 L411.7,88.2 L412.2,134.8 L412.7,166.1 L413.2,187.6 L413.7,198.1 L414.2,203.9 L414.7,208.0 L415.2,211.9 L415.7,217.1 L416.2,222.8 L416.7,227.3 L417.2,229.7 L417.7,231.4 L418.2,232.6 L418.7,233.7 L419.2,234.7 L419.7,235.3 L420.2,235.4 L420.7,235.3 L421.2,235.2 L421.7,235.0 L422.2,234.8 L422.7,234.6 L423.2,234.3 L423.7,234.1 L424.2,233.9 L424.7,233.7 L425.2,233.4 L425.7,233.1 L426.2,232.9 L426.7,232.6 L427.2,232.4 L427.7,232.2 L428.2,232.1 L428.7,232.1 L429.2,232.2 L429.7,232.3 L430.2,232.5 L430.7,232.7 L431.2,233.0 L431.7,233.3 L432.2,233.6 L432.7,234.2 L433.2,234.9 L433.7,235.7 L434.2,236.6 L434.7,237.5 L435.2,238.2 L435.7,238.8 L436.2,239.2 L436.7,239.6 L437.2,239.9 L437.7,240.2 L438.2,240.5 L438.7,240.7 L439.2,240.9 L439.7,241.0 L440.2,241.0 L440.7,240.7 L441.2,240.3 L441.7,239.7 L442.2,239.1 L442.7,238.5 L443.2,237.9 L443.7,237.5 L444.2,237.3 L444.7,237.4 L445.2,237.6 L445.7,238.0 L446.2,238.5 L446.7,238.9 L447.2,239.3 L447.7,239.6 L448.2,239.6 L448.7,239.6 L449.2,239.5 L449.7,239.5 L450.2,239.4 L450.7,239.3 L451.2,239.2 L451.7,239.2 L452.2,239.1 L452.7,239.0 L453.2,238.8 L453.7,238.7 L454.2,238.5 L454.7,238.3 L455.2,238.2 L455.7,238.0 L456.2,237.8 L456.7,237.6 L457.2,237.4 L457.7,237.3 L458.2,237.1 L458.7,236.9 L459.2,236.7 L459.7,236.5 L460.2,236.3 L460.7,236.1 L461.2,235.9 L461.7,235.6 L462.2,235.3 L462.7,235.0 L463.2,234.7 L463.7,234.5 L464.2,234.3 L464.7,234.3 L465.2,234.4 L465.7,234.7 L466.2,235.2 L466.7,235.6 L467.2,236.1 L467.7,236.6 L468.2,236.9 L468.7,237.3 L469.2,237.7 L469.7,238.1 L470.2,238.4 L470.7,238.8 L471.2,239.1 L471.7,239.4 L472.2,239.6 L472.7,239.8 L473.2,240.0 L473.7,240.2 L474.2,240.4 L474.7,240.6 L475.2,240.7 L475.7,240.8 L476.2,240.8 L476.7,240.8 L477.2,240.9 L477.7,240.9 L478.2,240.9 L478.7,240.9 L479.2,240.9 L479.7,240.9 L480.2,240.9 L480.7,241.0 L481.2,241.0 L481.7,241.0 L482.2,241.0 L482.7,241.0 L483.2,241.0 L483.7,241.0 L484.2,241.0 L484.7,241.0 L485.2,241.0 L485.7,241.0 L486.2,240.9 L486.7,240.9 L487.2,240.8 L487.7,240.7 L488.2,240.6 L488.7,240.5 L489.2,240.4 L489.7,240.3 L490.2,240.2 L490.7,240.0 L491.2,239.9 L491.7,239.8 L492.2,239.6 L492.7,239.4 L493.2,239.2 L493.7,238.9 L494.2,238.6 L494.7,238.3 L495.2,238.0 L495.7,237.7 L496.2,237.3 L496.7,237.0 L497.2,236.6 L497.7,236.1 L498.2,235.6 L498.7,235.0 L499.2,234.3 L499.7,233.4 L500.2,232.5 L500.7,231.5 L501.2,230.5 L501.7,229.6 L502.2,228.6 L502.7,227.5 L503.2,226.5 L503.7,225.8 L504.2,225.6 L504.7,226.0 L505.2,226.7 L505.7,227.7 L506.2,228.8 L506.7,229.8 L507.2,230.7 L507.7,231.7 L508.2,232.8 L508.7,233.8 L509.2,234.7 L509.7,235.6 L510.2,236.3 L510.7,237.1 L511.2,237.8 L511.7,238.4 L512.2,238.9 L512.7,239.4 L513.2,239.7 L513.7,240.0 L514.2,240.2 L514.7,240.4 L515.2,240.6 L515.7,240.7 L516.2,240.8 L516.7,240.9 L517.2,241.0 L517.7,241.1 L518.2,241.2 L518.7,241.3 L519.2,241.3 L519.7,241.4 L520.2,241.4 L520.7,241.5 L521.2,241.5 L521.7,241.5 L522.2,241.5 L522.7,241.5 L523.2,241.5 L523.7,241.5 L524.2,241.5 L524.7,241.4 L525.2,241.4 L525.7,241.4 L526.2,241.4 L526.7,241.3 L527.2,241.3 L527.7,241.2 L528.2,241.2 L528.7,241.1 L529.2,241.1 L529.7,241.0 L530.2,241.0 L530.7,240.9 L531.2,240.7 L531.7,240.5 L532.2,240.3 L532.7,240.1 L533.2,239.8 L533.7,239.5 L534.2,239.3 L534.7,239.0 L535.2,238.6 L535.7,238.3 L536.2,238.0 L536.7,237.7 L537.2,237.3 L537.7,237.0 L538.2,236.7 L538.7,236.4 L539.2,236.2 L539.7,236.2 L540.2,236.3 L540.7,236.6 L541.2,236.9 L541.7,237.3 L542.2,237.6 L542.7,237.9 L543.2,238.3 L543.7,238.6 L544.2,239.0 L544.7,239.3 L545.2,239.5 L545.7,239.7 L546.2,239.8 L546.7,239.9 L547.2,240.0 L547.7,240.1 L548.2,240.2 L548.7,240.3 L549.2,240.4 L549.7,240.5 L550.2,240.6 L550.7,240.6 L551.2,240.7 L551.7,240.8 L552.2,240.8 L552.7,240.9 L553.2,240.9 L553.7,241.0 L554.2,241.1 L554.7,241.1 L555.2,241.2 L555.7,241.2 L556.2,241.3 L556.7,241.3 L557.2,241.4 L557.7,241.4 L558.2,241.4 L558.7,241.5 L559.2,241.5 L559.7,241.5 L560.2,241.5 L560.7,241.5 L561.2,241.5 L561.7,241.5 L562.2,241.5 L562.7,241.5 L563.2,241.5 L563.7,241.5 L564.2,241.5 L564.7,241.5 L565.2,241.5 L565.7,241.5 L566.2,241.5 L566.7,241.5 L567.2,241.5 L567.7,241.5 L568.2,241.5 L568.7,241.4 L569.2,241.4 L569.7,241.4 L570.2,241.4 L570.7,241.4 L571.2,241.4 L571.7,241.4 L572.2,241.4 L572.7,241.4 L573.2,241.4 L573.7,241.3 L574.2,241.3 L574.7,241.3 L575.2,241.3 L575.7,241.1 L576.2,240.8 L576.7,240.5 L577.2,240.1 L577.7,239.8 L578.2,239.5 L578.7,239.3 L579.2,239.0 L579.7,238.8 L580.2,238.6 L580.7,238.4 L581.2,238.1 L581.7,237.8 L582.2,237.4 L582.7,236.9 L583.2,236.2 L583.7,235.4 L584.2,234.5 L584.7,233.6 L585.2,232.8 L585.7,232.1 L586.2,231.5 L586.7,231.0 L587.2,230.6 L587.7,230.1 L588.2,229.7 L588.7,229.5 L589.2,229.3 L589.7,229.3 L590.2,229.3 L590.7,229.4 L591.2,229.5 L591.7,229.6 L592.2,229.7 L592.7,229.8 L593.2,229.8 L593.7,229.8 L594.2,229.6 L594.7,229.3 L595.2,228.8 L595.7,228.4 L596.2,228.0 L596.7,227.6 L597.2,227.4 L597.7,227.2 L598.2,227.0 L598.7,226.8 L599.2,226.6 L599.7,226.3 L600.2,226.0 L600.7,225.7 L601.2,225.1 L601.7,224.1 L602.2,223.0 L602.7,222.1 L603.2,221.6 L603.7,221.5 L604.2,221.8 L604.7,222.2 L605.2,222.7 L605.7,223.3 L606.2,223.8 L606.7,224.3 L607.2,224.6 L607.7,225.0 L608.2,225.4 L608.7,225.8 L609.2,226.3 L609.7,227.0 L610.2,228.1 L610.7,229.4 L611.2,230.7 L611.7,231.9 L612.2,232.7 L612.7,233.3 L613.2,233.8 L613.7,234.3 L614.2,234.8 L614.7,235.1 L615.2,235.5 L615.7,235.8 L616.2,236.2 L616.7,236.5 L617.2,236.8 L617.7,237.0 L618.2,237.1 L618.7,237.1 L619.2,237.1 L619.7,237.1 L620.2,237.1 L620.7,237.1 L621.2,237.1 L621.7,237.1 L622.2,237.1 L622.7,237.1 L623.2,237.1 L623.7,237.1 L624.2,237.2 L624.7,237.3 L625.2,237.4 L625.7,237.4 L626.2,237.5 L626.7,237.6 L627.2,237.6 L627.7,237.6 L628.2,237.4 L628.7,237.1 L629.2,236.8 L629.7,236.6 L630.2,236.3 L630.7,236.1 L631.2,235.9 L631.7,235.6 L632.2,235.4 L632.7,235.1 L633.2,234.9 L633.7,234.6 L634.2,234.2 L634.7,233.9 L635.2,233.5 L635.7,233.1 L636.2,232.6 L636.7,231.9 L637.2,231.1 L637.7,230.2 L638.2,229.2 L638.7,228.0 L639.2,226.9 L639.7,225.7 L640.2,224.4 L640.7,223.2 L641.2,221.9 L641.7,220.2 L642.2,218.3 L642.7,216.5 L643.2,214.8 L643.7,213.5 L644.2,212.9 L644.7,213.0 L645.2,213.8 L645.7,215.3 L646.2,217.2 L646.7,219.2 L647.2,221.2 L647.7,223.0 L648.2,224.7 L648.7,226.6 L649.2,228.6 L649.7,230.3 L650.2,231.8 L650.7,232.9 L651.2,233.6 L651.7,234.3 L652.2,234.9 L652.7,235.4 L653.2,235.9 L653.7,236.3 L654.2,236.6 L654.7,236.9 L655.2,237.1 L655.7,237.4 L656.2,237.6 L656.7,237.8 L657.2,238.0 L657.7,238.1 L658.2,238.3 L658.7,238.5 L659.2,238.6 L659.7,238.8 L660.2,238.9 L660.7,239.0 L661.2,239.1 L661.7,239.2 L662.2,239.3 L662.7,239.5 L663.2,239.6 L663.7,239.6 L664.2,239.7 L664.7,239.8 L665.2,239.9 L665.7,240.0 L666.2,240.1 L666.7,240.2 L667.2,240.3 L667.7,240.4 L668.2,240.5 L668.7,240.6 L669.2,240.6 L669.7,240.7 L670.2,240.8 L670.7,240.9 L671.2,240.9 L671.7,241.0 L672.2,241.1 L672.7,241.1 L673.2,241.2 L673.7,241.2 L674.2,241.3 L674.7,241.3 L675.2,241.4 L675.7,241.4 L676.2,241.5 L676.7,241.5" stroke="#bd2b31"/>
</g>
<rect x="384.7" y="26.9" width="292.4" height="216" fill="none" stroke="#b4b4b4" stroke-width="1.4"/>
<line x1="381.9" y1="242.6" x2="384.7" y2="242.6" stroke="#777" stroke-width="1" />
<text x="379.8" y="246.8" font-size="10.09" text-anchor="end" textLength="6.17" lengthAdjust="spacingAndGlyphs" >0</text>
<line x1="381.9" y1="206.67" x2="384.7" y2="206.67" stroke="#777" stroke-width="1" />
<text x="379.8" y="210.87" font-size="10.09" text-anchor="end" textLength="24.69" lengthAdjust="spacingAndGlyphs" >2000</text>
<line x1="381.9" y1="170.74" x2="384.7" y2="170.74" stroke="#777" stroke-width="1" />
<text x="379.8" y="174.94" font-size="10.09" text-anchor="end" textLength="24.69" lengthAdjust="spacingAndGlyphs" >4000</text>
<line x1="381.9" y1="134.81" x2="384.7" y2="134.81" stroke="#777" stroke-width="1" />
<text x="379.8" y="139.01" font-size="10.09" text-anchor="end" textLength="24.69" lengthAdjust="spacingAndGlyphs" >6000</text>
<line x1="381.9" y1="98.88" x2="384.7" y2="98.88" stroke="#777" stroke-width="1" />
<text x="379.8" y="103.08" font-size="10.09" text-anchor="end" textLength="24.69" lengthAdjust="spacingAndGlyphs" >8000</text>
<line x1="381.9" y1="62.95" x2="384.7" y2="62.95" stroke="#777" stroke-width="1" />
<text x="379.8" y="67.15" font-size="10.09" text-anchor="end" textLength="30.86" lengthAdjust="spacingAndGlyphs" >10000</text>
<line x1="381.9" y1="27.02" x2="384.7" y2="27.02" stroke="#777" stroke-width="1" />
<text x="379.8" y="31.22" font-size="10.09" text-anchor="end" textLength="30.86" lengthAdjust="spacingAndGlyphs" >12000</text>
<line x1="408" y1="242.9" x2="408" y2="245.6" stroke="#777" stroke-width="1" />
<text x="408" y="256.2" font-size="10.09" text-anchor="middle" textLength="27.77" lengthAdjust="spacingAndGlyphs" >547.5</text>
<line x1="442.48" y1="242.9" x2="442.48" y2="245.6" stroke="#777" stroke-width="1" />
<text x="442.48" y="256.2" font-size="10.09" text-anchor="middle" textLength="27.77" lengthAdjust="spacingAndGlyphs" >550.0</text>
<line x1="476.95" y1="242.9" x2="476.95" y2="245.6" stroke="#777" stroke-width="1" />
<text x="476.95" y="256.2" font-size="10.09" text-anchor="middle" textLength="27.77" lengthAdjust="spacingAndGlyphs" >552.5</text>
<line x1="511.43" y1="242.9" x2="511.43" y2="245.6" stroke="#777" stroke-width="1" />
<text x="511.43" y="256.2" font-size="10.09" text-anchor="middle" textLength="27.77" lengthAdjust="spacingAndGlyphs" >555.0</text>
<line x1="545.9" y1="242.9" x2="545.9" y2="245.6" stroke="#777" stroke-width="1" />
<text x="545.9" y="256.2" font-size="10.09" text-anchor="middle" textLength="27.77" lengthAdjust="spacingAndGlyphs" >557.5</text>
<line x1="580.38" y1="242.9" x2="580.38" y2="245.6" stroke="#777" stroke-width="1" />
<text x="580.38" y="256.2" font-size="10.09" text-anchor="middle" textLength="27.77" lengthAdjust="spacingAndGlyphs" >560.0</text>
<line x1="614.85" y1="242.9" x2="614.85" y2="245.6" stroke="#777" stroke-width="1" />
<text x="614.85" y="256.2" font-size="10.09" text-anchor="middle" textLength="27.77" lengthAdjust="spacingAndGlyphs" >562.5</text>
<line x1="649.33" y1="242.9" x2="649.33" y2="245.6" stroke="#777" stroke-width="1" />
<text x="649.33" y="256.2" font-size="10.09" text-anchor="middle" textLength="27.77" lengthAdjust="spacingAndGlyphs" >565.0</text>
<line x1="393.49" y1="26.9" x2="393.49" y2="24.2" stroke="#777" stroke-width="1" />
<text x="393.49" y="20.2" font-size="10.09" text-anchor="middle" textLength="30.86" lengthAdjust="spacingAndGlyphs" >18300</text>
<line x1="434.9" y1="26.9" x2="434.9" y2="24.2" stroke="#777" stroke-width="1" />
<text x="434.9" y="20.2" font-size="10.09" text-anchor="middle" textLength="30.86" lengthAdjust="spacingAndGlyphs" >18200</text>
<line x1="476.76" y1="26.9" x2="476.76" y2="24.2" stroke="#777" stroke-width="1" />
<text x="476.76" y="20.2" font-size="10.09" text-anchor="middle" textLength="30.86" lengthAdjust="spacingAndGlyphs" >18100</text>
<line x1="519.09" y1="26.9" x2="519.09" y2="24.2" stroke="#777" stroke-width="1" />
<text x="519.09" y="20.2" font-size="10.09" text-anchor="middle" textLength="30.86" lengthAdjust="spacingAndGlyphs" >18000</text>
<line x1="561.89" y1="26.9" x2="561.89" y2="24.2" stroke="#777" stroke-width="1" />
<text x="561.89" y="20.2" font-size="10.09" text-anchor="middle" textLength="30.86" lengthAdjust="spacingAndGlyphs" >17900</text>
<line x1="605.17" y1="26.9" x2="605.17" y2="24.2" stroke="#777" stroke-width="1" />
<text x="605.17" y="20.2" font-size="10.09" text-anchor="middle" textLength="30.86" lengthAdjust="spacingAndGlyphs" >17800</text>
<line x1="648.94" y1="26.9" x2="648.94" y2="24.2" stroke="#777" stroke-width="1" />
<text x="648.94" y="20.2" font-size="10.09" text-anchor="middle" textLength="30.86" lengthAdjust="spacingAndGlyphs" >17700</text>
<text x="530.6" y="268.2" font-size="10.19" text-anchor="middle" textLength="86.38" lengthAdjust="spacingAndGlyphs" >Wavelength (nm)</text>
<text x="496.4" y="9.7" font-size="10.3" textLength="59.6" lengthAdjust="spacingAndGlyphs">Energy (cm</text>
<text x="555.9" y="5.5" font-size="8" textLength="8.8" lengthAdjust="spacingAndGlyphs">−1</text>
<text x="564.9" y="9.7" font-size="10.3">)</text>
<text transform="translate(343.6,135.2) rotate(-90)" x="0" y="0" font-size="10.19" text-anchor="middle" textLength="86.35" lengthAdjust="spacingAndGlyphs" >PL Intensity (a.u.)</text>
<text x="387.3" y="41.7" font-size="13" >(b)</text>
<text x="444.4" y="85" font-size="10" textLength="44.8" lengthAdjust="spacingAndGlyphs" >Si Raman</text>
<line x1="442.8" y1="81" x2="425.5" y2="84.9" stroke="#3a6fd8" stroke-width="0.9" />
<polygon points="421.8,85.7 427,82.4 427.6,86.6" fill="#3a6fd8"/>
<rect x="500.4" y="31.4" width="61" height="61.4" rx="2" fill="#fff" fill-opacity="0.8" stroke="#d8d8d8" stroke-width="1"/>
<line x1="504" y1="39.5" x2="525" y2="39.5" stroke="#222222" stroke-width="1.3" />
<text x="532.4" y="43.4" font-size="11.02" textLength="12.79" lengthAdjust="spacingAndGlyphs" >4K</text>
<line x1="504" y1="54.5" x2="525" y2="54.5" stroke="#1c8985" stroke-width="1.3" />
<text x="532.4" y="58.4" font-size="11.02" textLength="25.39" lengthAdjust="spacingAndGlyphs" >100K</text>
<line x1="504" y1="69.1" x2="525" y2="69.1" stroke="#3a9af8" stroke-width="1.3" />
<text x="532.4" y="73" font-size="11.02" textLength="25.39" lengthAdjust="spacingAndGlyphs" >200K</text>
<line x1="504" y1="83.6" x2="525" y2="83.6" stroke="#bd2b31" stroke-width="1.3" />
<text x="532.4" y="87.5" font-size="11.02" textLength="25.39" lengthAdjust="spacingAndGlyphs" >300K</text>
<g transform="translate(395.9,231.8) rotate(-90)" fill="#1a1a1a" stroke="#1a1a1a" stroke-width="0.08"><text x="0" y="0" font-size="9.2">E</text><text x="6.18" y="2.4" font-size="6.2">2</text><path d="M12.98,-2.21H18.81" stroke="#1a1a1a" stroke-width="0.8" fill="none"/><path d="M20.21,-2.21L17.71,-3.66L17.71,-0.76Z" fill="#1a1a1a" stroke="none"/><text x="23.17" y="0" font-size="9.2">Z</text><text x="28.83" y="2.4" font-size="6.2">1</text></g>
<g transform="translate(402.7,194) rotate(-90)" fill="#1a1a1a" stroke="#1a1a1a" stroke-width="0.08"><text x="0" y="0" font-size="9.2">E</text><text x="6.06" y="2.4" font-size="6.2">2</text><path d="M12.75,-2.21H18.43" stroke="#1a1a1a" stroke-width="0.8" fill="none"/><path d="M19.83,-2.21L17.33,-3.66L17.33,-0.76Z" fill="#1a1a1a" stroke="none"/><text x="22.74" y="0" font-size="9.2">Z</text><text x="28.29" y="2.4" font-size="6.2">2</text></g>
<g transform="translate(423.6,218.4) rotate(-90)" fill="#1a1a1a" stroke="#1a1a1a" stroke-width="0.08"><text x="0" y="0" font-size="9.2">E</text><text x="6.16" y="2.4" font-size="6.2">2</text><path d="M12.94,-2.21H18.75" stroke="#1a1a1a" stroke-width="0.8" fill="none"/><path d="M20.15,-2.21L17.65,-3.66L17.65,-0.76Z" fill="#1a1a1a" stroke="none"/><text x="23.1" y="0" font-size="9.2">Z</text><text x="28.74" y="2.4" font-size="6.2">3</text></g>
<g transform="translate(432.8,202.6) rotate(-90)" fill="#1a1a1a" stroke="#1a1a1a" stroke-width="0.08"><text x="0" y="0" font-size="9.2">E</text><text x="6.35" y="2.4" font-size="6.2">2</text><path d="M13.33,-2.21H19.38" stroke="#1a1a1a" stroke-width="0.8" fill="none"/><path d="M20.78,-2.21L18.28,-3.66L18.28,-0.76Z" fill="#1a1a1a" stroke="none"/><text x="23.82" y="0" font-size="9.2">Z</text><text x="29.63" y="2.4" font-size="6.2">4</text><text x="33.2" y="0" font-size="9.2">,</text><text x="38.7" y="0" font-size="9.2">E</text><text x="45.05" y="2.4" font-size="6.2">1</text><path d="M52.03,-2.21H58.08" stroke="#1a1a1a" stroke-width="0.8" fill="none"/><path d="M59.48,-2.21L56.98,-3.66L56.98,-0.76Z" fill="#1a1a1a" stroke="none"/><text x="62.52" y="0" font-size="9.2">Z</text><text x="68.33" y="2.4" font-size="6.2">1</text></g>
<g transform="translate(446.6,208.4) rotate(-90)" fill="#1a1a1a" stroke="#1a1a1a" stroke-width="0.08"><text x="0" y="0" font-size="9.2">E</text><text x="6.16" y="2.4" font-size="6.2">1</text><path d="M12.94,-2.21H18.75" stroke="#1a1a1a" stroke-width="0.8" fill="none"/><path d="M20.15,-2.21L17.65,-3.66L17.65,-0.76Z" fill="#1a1a1a" stroke="none"/><text x="23.1" y="0" font-size="9.2">Z</text><text x="28.74" y="2.4" font-size="6.2">2</text></g>
<g transform="translate(457,216.5) rotate(-90)" fill="#1a1a1a" stroke="#1a1a1a" stroke-width="0.08"><text x="0" y="0" font-size="9.2">E</text><text x="6.39" y="2.4" font-size="6.2">2</text><path d="M13.41,-2.21H19.51" stroke="#1a1a1a" stroke-width="0.8" fill="none"/><path d="M20.91,-2.21L18.41,-3.66L18.41,-0.76Z" fill="#1a1a1a" stroke="none"/><text x="23.96" y="0" font-size="9.2">Z</text><text x="29.82" y="2.4" font-size="6.2">5</text><text x="33.41" y="0" font-size="9.2">,</text><text x="38.94" y="0" font-size="9.2">E</text><text x="45.33" y="2.4" font-size="6.2">1</text><path d="M49.47,-2.21H55.57" stroke="#1a1a1a" stroke-width="0.8" fill="none"/><path d="M56.97,-2.21L54.47,-3.66L54.47,-0.76Z" fill="#1a1a1a" stroke="none"/><text x="57.16" y="0" font-size="9.2">Z</text><text x="63.01" y="2.4" font-size="6.2">3</text></g>
<g transform="translate(467.7,181.9) rotate(-90)" fill="#1a1a1a" stroke="#1a1a1a" stroke-width="0.08"><text x="0" y="0" font-size="9.2">E</text><text x="6.16" y="2.4" font-size="6.2">1</text><path d="M12.94,-2.21H18.75" stroke="#1a1a1a" stroke-width="0.8" fill="none"/><path d="M20.15,-2.21L17.65,-3.66L17.65,-0.76Z" fill="#1a1a1a" stroke="none"/><text x="23.1" y="0" font-size="9.2">Z</text><text x="28.74" y="2.4" font-size="6.2">4</text></g>
<g transform="translate(496.7,202.5) rotate(-90)" fill="#1a1a1a" stroke="#1a1a1a" stroke-width="0.08"><text x="0" y="0" font-size="9.2">E</text><text x="6.35" y="2.4" font-size="6.2">1</text><path d="M13.33,-2.21H19.38" stroke="#1a1a1a" stroke-width="0.8" fill="none"/><path d="M20.78,-2.21L18.28,-3.66L18.28,-0.76Z" fill="#1a1a1a" stroke="none"/><text x="23.82" y="0" font-size="9.2">Z</text><text x="29.63" y="2.4" font-size="6.2">5</text></g>
<g transform="translate(506.7,178.7) rotate(-90)" fill="#1a1a1a" stroke="#1a1a1a" stroke-width="0.08"><text x="0" y="0" font-size="9.2">E</text><text x="6.35" y="2.4" font-size="6.2">2</text><path d="M13.33,-2.21H19.38" stroke="#1a1a1a" stroke-width="0.8" fill="none"/><path d="M20.78,-2.21L18.28,-3.66L18.28,-0.76Z" fill="#1a1a1a" stroke="none"/><text x="23.82" y="0" font-size="9.2">Z</text><text x="29.63" y="2.4" font-size="6.2">6</text></g>
<g transform="translate(541.4,195.6) rotate(-90)" fill="#1a1a1a" stroke="#1a1a1a" stroke-width="0.08"><text x="0" y="0" font-size="9.2">E</text><text x="6.2" y="2.4" font-size="6.2">1</text><path d="M13.02,-2.21H18.87" stroke="#1a1a1a" stroke-width="0.8" fill="none"/><path d="M20.27,-2.21L17.77,-3.66L17.77,-0.76Z" fill="#1a1a1a" stroke="none"/><text x="23.24" y="0" font-size="9.2">Z</text><text x="28.92" y="2.4" font-size="6.2">6</text></g>
<g transform="translate(609.9,195.8) rotate(-90)" fill="#1a1a1a" stroke="#1a1a1a" stroke-width="0.08"><text x="0" y="0" font-size="9.2">E</text><text x="6.13" y="2.4" font-size="6.2">2</text><path d="M12.88,-2.21H18.64" stroke="#1a1a1a" stroke-width="0.8" fill="none"/><path d="M20.04,-2.21L17.54,-3.66L17.54,-0.76Z" fill="#1a1a1a" stroke="none"/><text x="22.98" y="0" font-size="9.2">Z</text><text x="28.59" y="2.4" font-size="6.2">7,8</text></g>
<g transform="translate(647,147.6) rotate(-90)" fill="#1a1a1a" stroke="#1a1a1a" stroke-width="0.08"><text x="0" y="0" font-size="9.2">E</text><text x="6.29" y="2.4" font-size="6.2">1</text><path d="M13.21,-2.21H19.19" stroke="#1a1a1a" stroke-width="0.8" fill="none"/><path d="M20.59,-2.21L18.09,-3.66L18.09,-0.76Z" fill="#1a1a1a" stroke="none"/><text x="23.6" y="0" font-size="9.2">Z</text><text x="29.36" y="2.4" font-size="6.2">7,8</text></g>
<circle cx="49.8" cy="487.6" r="2.85" fill="#1f77b4"/>
<circle cx="55.2" cy="484.6" r="2.85" fill="#1f77b4"/>
<circle cx="64.3" cy="489.3" r="2.85" fill="#1f77b4"/>
<circle cx="73.3" cy="491.4" r="2.85" fill="#1f77b4"/>
<circle cx="82.1" cy="491" r="2.85" fill="#1f77b4"/>
<circle cx="91.1" cy="486.3" r="2.85" fill="#1f77b4"/>
<circle cx="100.2" cy="482.1" r="2.85" fill="#1f77b4"/>
<circle cx="109.2" cy="480.8" r="2.85" fill="#1f77b4"/>
<circle cx="118" cy="480.5" r="2.85" fill="#1f77b4"/>
<circle cx="127" cy="477.1" r="2.85" fill="#1f77b4"/>
<circle cx="135.8" cy="481.8" r="2.85" fill="#1f77b4"/>
<circle cx="144.6" cy="475" r="2.85" fill="#1f77b4"/>
<circle cx="153.6" cy="477.4" r="2.85" fill="#1f77b4"/>
<circle cx="162.7" cy="469" r="2.85" fill="#1f77b4"/>
<circle cx="171.6" cy="472.5" r="2.85" fill="#1f77b4"/>
<circle cx="180.5" cy="456" r="2.85" fill="#1f77b4"/>
<circle cx="189.4" cy="458.6" r="2.85" fill="#1f77b4"/>
<circle cx="198.5" cy="451.2" r="2.85" fill="#1f77b4"/>
<circle cx="207.4" cy="442.2" r="2.85" fill="#1f77b4"/>
<circle cx="216.4" cy="430.7" r="2.85" fill="#1f77b4"/>
<circle cx="225.3" cy="427.3" r="2.85" fill="#1f77b4"/>
<circle cx="234.3" cy="412.9" r="2.85" fill="#1f77b4"/>
<circle cx="243.2" cy="399.9" r="2.85" fill="#1f77b4"/>
<circle cx="252" cy="387.7" r="2.85" fill="#1f77b4"/>
<circle cx="261" cy="378.1" r="2.85" fill="#1f77b4"/>
<circle cx="270" cy="363.5" r="2.85" fill="#1f77b4"/>
<circle cx="278.9" cy="366.1" r="2.85" fill="#1f77b4"/>
<circle cx="287.7" cy="346.1" r="2.85" fill="#1f77b4"/>
<circle cx="296.9" cy="373" r="2.85" fill="#1f77b4"/>
<circle cx="305.7" cy="306.1" r="2.85" fill="#1f77b4"/>
<circle cx="314.6" cy="292.6" r="2.85" fill="#1f77b4"/>
<circle cx="49.8" cy="471.1" r="2.85" fill="#ff7f0e"/>
<circle cx="55.2" cy="469" r="2.85" fill="#ff7f0e"/>
<circle cx="64.3" cy="464.5" r="2.85" fill="#ff7f0e"/>
<circle cx="73.3" cy="459.2" r="2.85" fill="#ff7f0e"/>
<circle cx="82.1" cy="452.3" r="2.85" fill="#ff7f0e"/>
<circle cx="91.1" cy="446.2" r="2.85" fill="#ff7f0e"/>
<circle cx="100.2" cy="434.4" r="2.85" fill="#ff7f0e"/>
<circle cx="109" cy="415.9" r="2.85" fill="#ff7f0e"/>
<circle cx="118" cy="399.1" r="2.85" fill="#ff7f0e"/>
<circle cx="127.1" cy="377.3" r="2.85" fill="#ff7f0e"/>
<circle cx="135.8" cy="347.5" r="2.85" fill="#ff7f0e"/>
<circle cx="144.7" cy="321.7" r="2.85" fill="#ff7f0e"/>
<circle cx="153.6" cy="305.8" r="2.85" fill="#ff7f0e"/>
<circle cx="162.6" cy="300.1" r="2.85" fill="#ff7f0e"/>
<circle cx="171.6" cy="292.8" r="2.85" fill="#ff7f0e"/>
<circle cx="180.5" cy="314.2" r="2.85" fill="#ff7f0e"/>
<circle cx="189.5" cy="327" r="2.85" fill="#ff7f0e"/>
<circle cx="198.4" cy="349.3" r="2.85" fill="#ff7f0e"/>
<circle cx="207.2" cy="370" r="2.85" fill="#ff7f0e"/>
<circle cx="216.4" cy="380.1" r="2.85" fill="#ff7f0e"/>
<circle cx="225.3" cy="399.1" r="2.85" fill="#ff7f0e"/>
<circle cx="234.3" cy="411.7" r="2.85" fill="#ff7f0e"/>
<circle cx="243.2" cy="419.6" r="2.85" fill="#ff7f0e"/>
<circle cx="252.1" cy="436.7" r="2.85" fill="#ff7f0e"/>
<circle cx="261" cy="440" r="2.85" fill="#ff7f0e"/>
<circle cx="270" cy="437.3" r="2.85" fill="#ff7f0e"/>
<circle cx="278.9" cy="457.8" r="2.85" fill="#ff7f0e"/>
<circle cx="287.9" cy="454.4" r="2.85" fill="#ff7f0e"/>
<circle cx="296.9" cy="461.3" r="2.85" fill="#ff7f0e"/>
<circle cx="305.8" cy="457.2" r="2.85" fill="#ff7f0e"/>
<circle cx="314.7" cy="462.1" r="2.85" fill="#ff7f0e"/>
<circle cx="49.8" cy="458.3" r="2.85" fill="#2ca02c"/>
<circle cx="55.2" cy="459.2" r="2.85" fill="#2ca02c"/>
<circle cx="64.3" cy="454.1" r="2.85" fill="#2ca02c"/>
<circle cx="73.3" cy="448.5" r="2.85" fill="#2ca02c"/>
<circle cx="82.1" cy="443.2" r="2.85" fill="#2ca02c"/>
<circle cx="91.1" cy="435.2" r="2.85" fill="#2ca02c"/>
<circle cx="100.2" cy="428.2" r="2.85" fill="#2ca02c"/>
<circle cx="109" cy="417.9" r="2.85" fill="#2ca02c"/>
<circle cx="118" cy="398.3" r="2.85" fill="#2ca02c"/>
<circle cx="127.1" cy="382.6" r="2.85" fill="#2ca02c"/>
<circle cx="135.8" cy="359.5" r="2.85" fill="#2ca02c"/>
<circle cx="144.7" cy="319.5" r="2.85" fill="#2ca02c"/>
<circle cx="153.6" cy="310.1" r="2.85" fill="#2ca02c"/>
<circle cx="162.6" cy="292.8" r="2.85" fill="#2ca02c"/>
<circle cx="171.6" cy="304.1" r="2.85" fill="#2ca02c"/>
<circle cx="180.5" cy="315.7" r="2.85" fill="#2ca02c"/>
<circle cx="189.5" cy="324.4" r="2.85" fill="#2ca02c"/>
<circle cx="198.4" cy="348.7" r="2.85" fill="#2ca02c"/>
<circle cx="207.4" cy="369.5" r="2.85" fill="#2ca02c"/>
<circle cx="216.4" cy="384.4" r="2.85" fill="#2ca02c"/>
<circle cx="225.3" cy="406.4" r="2.85" fill="#2ca02c"/>
<circle cx="234.3" cy="410.3" r="2.85" fill="#2ca02c"/>
<circle cx="243.2" cy="421.8" r="2.85" fill="#2ca02c"/>
<circle cx="252.1" cy="427.9" r="2.85" fill="#2ca02c"/>
<circle cx="261" cy="431" r="2.85" fill="#2ca02c"/>
<circle cx="270" cy="435.3" r="2.85" fill="#2ca02c"/>
<circle cx="278.9" cy="439.4" r="2.85" fill="#2ca02c"/>
<circle cx="287.9" cy="445.6" r="2.85" fill="#2ca02c"/>
<circle cx="296.9" cy="444.3" r="2.85" fill="#2ca02c"/>
<circle cx="305.8" cy="449" r="2.85" fill="#2ca02c"/>
<rect x="37.5" y="273.5" width="295" height="228" fill="none" stroke="#4a4a4a" stroke-width="1"/>
<line x1="46.4" y1="501.5" x2="46.4" y2="505" stroke="#333" stroke-width="0.9" />
<text x="46.4" y="514.8" font-size="10.61" text-anchor="middle" textLength="6.68" lengthAdjust="spacingAndGlyphs" >0</text>
<line x1="91.23" y1="501.5" x2="91.23" y2="505" stroke="#333" stroke-width="0.9" />
<text x="91.23" y="514.8" font-size="10.61" text-anchor="middle" textLength="13.36" lengthAdjust="spacingAndGlyphs" >50</text>
<line x1="136.07" y1="501.5" x2="136.07" y2="505" stroke="#333" stroke-width="0.9" />
<text x="136.07" y="514.8" font-size="10.61" text-anchor="middle" textLength="20.04" lengthAdjust="spacingAndGlyphs" >100</text>
<line x1="180.91" y1="501.5" x2="180.91" y2="505" stroke="#333" stroke-width="0.9" />
<text x="180.91" y="514.8" font-size="10.61" text-anchor="middle" textLength="20.04" lengthAdjust="spacingAndGlyphs" >150</text>
<line x1="225.74" y1="501.5" x2="225.74" y2="505" stroke="#333" stroke-width="0.9" />
<text x="225.74" y="514.8" font-size="10.61" text-anchor="middle" textLength="20.04" lengthAdjust="spacingAndGlyphs" >200</text>
<line x1="270.57" y1="501.5" x2="270.57" y2="505" stroke="#333" stroke-width="0.9" />
<text x="270.57" y="514.8" font-size="10.61" text-anchor="middle" textLength="20.04" lengthAdjust="spacingAndGlyphs" >250</text>
<line x1="315.41" y1="501.5" x2="315.41" y2="505" stroke="#333" stroke-width="0.9" />
<text x="315.41" y="514.8" font-size="10.61" text-anchor="middle" textLength="20.04" lengthAdjust="spacingAndGlyphs" >300</text>
<line x1="34" y1="491.4" x2="37.5" y2="491.4" stroke="#333" stroke-width="0.9" />
<text x="31.9" y="495.2" font-size="10.61" text-anchor="end" textLength="16.7" lengthAdjust="spacingAndGlyphs" >0.0</text>
<line x1="34" y1="451.6" x2="37.5" y2="451.6" stroke="#333" stroke-width="0.9" />
<text x="31.9" y="455.4" font-size="10.61" text-anchor="end" textLength="16.7" lengthAdjust="spacingAndGlyphs" >0.2</text>
<line x1="34" y1="411.8" x2="37.5" y2="411.8" stroke="#333" stroke-width="0.9" />
<text x="31.9" y="415.6" font-size="10.61" text-anchor="end" textLength="16.7" lengthAdjust="spacingAndGlyphs" >0.4</text>
<line x1="34" y1="372" x2="37.5" y2="372" stroke="#333" stroke-width="0.9" />
<text x="31.9" y="375.8" font-size="10.61" text-anchor="end" textLength="16.7" lengthAdjust="spacingAndGlyphs" >0.6</text>
<line x1="34" y1="332.2" x2="37.5" y2="332.2" stroke="#333" stroke-width="0.9" />
<text x="31.9" y="336" font-size="10.61" text-anchor="end" textLength="16.7" lengthAdjust="spacingAndGlyphs" >0.8</text>
<line x1="34" y1="292.4" x2="37.5" y2="292.4" stroke="#333" stroke-width="0.9" />
<text x="31.9" y="296.2" font-size="10.61" text-anchor="end" textLength="16.7" lengthAdjust="spacingAndGlyphs" >1.0</text>
<text x="185" y="528.7" font-size="11.18" text-anchor="middle" textLength="88.97" lengthAdjust="spacingAndGlyphs" >Temperature (K)</text>
<text transform="translate(9.2,387.6) rotate(-90)" x="0" y="0" font-size="11.49" text-anchor="middle" textLength="175.65" lengthAdjust="spacingAndGlyphs" >Normalized Integrated Intensity</text>
<line x1="61.8" y1="281.1" x2="110" y2="281.1" stroke="#000" stroke-width="2.6" />
<line x1="61.8" y1="287.7" x2="110" y2="287.7" stroke="#000" stroke-width="2.6" />
<line x1="62" y1="365.5" x2="110.3" y2="365.5" stroke="#000" stroke-width="3" />
<line x1="61.6" y1="411.8" x2="110" y2="411.8" stroke="#000" stroke-width="3" />
<line x1="73.4" y1="282.4" x2="73.4" y2="405.6" stroke="#1f77b4" stroke-width="1.9" />
<polygon points="70.1,404.4 76.7,404.4 73.4,410.6" fill="#1f77b4"/>
<line x1="89.1" y1="289" x2="89.1" y2="405.6" stroke="#ff7f0e" stroke-width="1.9" />
<polygon points="85.8,404.4 92.4,404.4 89.1,410.6" fill="#ff7f0e"/>
<line x1="103.4" y1="289" x2="103.4" y2="359" stroke="#2ca02c" stroke-width="1.9" />
<polygon points="100.1,357.8 106.7,357.8 103.4,364" fill="#2ca02c"/>
<text x="41.6" y="289.2" font-size="13" >(c)</text>
<text transform="translate(71.1,349.4) rotate(-90)" font-size="13.8" font-weight="bold">528 nm</text>
<text transform="translate(86.7,349.4) rotate(-90)" font-size="13.8" font-weight="bold">554 nm</text>
<text transform="translate(101.6,349.4) rotate(-90)" font-size="13.8" font-weight="bold">862 nm</text>
<text x="112.3" y="284.8" font-size="13.8"><tspan font-size="8.8" dy="-4.3">2</tspan><tspan dy="4.3">H</tspan><tspan font-size="10" dy="3.9">11/2</tspan></text>
<text x="112.6" y="295.3" font-size="13.8"><tspan font-size="8.8" dy="-4.3">4</tspan><tspan dy="4.3">S</tspan><tspan font-size="10" dy="3.3">3/2</tspan></text>
<text x="38.4" y="371.3" font-size="14.4"><tspan font-size="9.2" dy="-3.9">4</tspan><tspan dy="3.9">I</tspan><tspan font-size="10" dy="3.4">13/2</tspan></text>
<text x="38.4" y="420.6" font-size="14.4"><tspan font-size="9.2" dy="-3.9">4</tspan><tspan dy="3.9">I</tspan><tspan font-size="10" dy="3.4">15/2</tspan></text>
<defs><clipPath id="cd"><rect x="385.5" y="273.5" width="293" height="227"/></clipPath></defs>
<g clip-path="url(#cd)">
<circle cx="401.1" cy="298.5" r="2.85" fill="#1f77b4"/>
<circle cx="407" cy="298.5" r="2.85" fill="#1f77b4"/>
<circle cx="413" cy="308.3" r="2.85" fill="#1f77b4"/>
<circle cx="419.7" cy="377.9" r="2.85" fill="#1f77b4"/>
<circle cx="427" cy="385.5" r="2.85" fill="#1f77b4"/>
<circle cx="434.4" cy="400.6" r="2.85" fill="#1f77b4"/>
<circle cx="443.2" cy="431.4" r="2.85" fill="#1f77b4"/>
<circle cx="452.3" cy="446.6" r="2.85" fill="#1f77b4"/>
<circle cx="462.6" cy="460.6" r="2.85" fill="#1f77b4"/>
<circle cx="473.9" cy="468.1" r="2.85" fill="#1f77b4"/>
<circle cx="486.5" cy="475.2" r="2.85" fill="#1f77b4"/>
<circle cx="500.7" cy="480.9" r="2.85" fill="#1f77b4"/>
<circle cx="516.6" cy="485.1" r="2.85" fill="#1f77b4"/>
<circle cx="534.5" cy="485" r="2.85" fill="#1f77b4"/>
<circle cx="555.2" cy="490.3" r="2.85" fill="#1f77b4"/>
<circle cx="578.5" cy="489.4" r="2.85" fill="#1f77b4"/>
<circle cx="606.2" cy="491.3" r="2.85" fill="#1f77b4"/>
<circle cx="638.7" cy="490.3" r="2.85" fill="#1f77b4"/>
<circle cx="677.8" cy="492" r="2.85" fill="#1f77b4"/>
<polyline points="385.12,171.25 386.1,180.13 387.07,188.77 388.05,197.17 389.03,205.34 390,213.29 390.98,221.02 391.96,228.54 392.94,235.85 393.91,242.96 394.89,249.87 395.87,256.6 396.84,263.14 397.82,269.5 398.8,275.68 399.77,281.7 400.75,287.55 401.73,293.24 402.7,298.78 403.68,304.16 404.66,309.39 405.64,314.49 406.61,319.44 407.59,324.25 408.57,328.93 409.54,333.49 410.52,337.92 411.5,342.23 412.47,346.42 413.45,350.49 414.43,354.45 415.4,358.31 416.38,362.06 417.36,365.7 418.34,369.25 419.31,372.7 420.29,376.05 421.27,379.31 422.24,382.48 423.22,385.57 424.2,388.57 425.17,391.48 426.15,394.32 427.13,397.08 428.11,399.77 429.08,402.38 430.06,404.91 431.04,407.38 432.01,409.79 432.99,412.12 433.97,414.39 434.94,416.6 435.92,418.75 436.9,420.84 437.87,422.87 438.85,424.85 439.83,426.77 440.81,428.64 441.78,430.45 442.76,432.22 443.74,433.94 444.71,435.61 445.69,437.24 446.67,438.82 447.64,440.36 448.62,441.86 449.6,443.31 450.57,444.73 451.55,446.1 452.53,447.44 453.51,448.74 454.48,450.01 455.46,451.24 456.44,452.44 457.41,453.6 458.39,454.73 459.37,455.83 460.34,456.91 461.32,457.95 462.3,458.96 463.27,459.95 464.25,460.9 465.23,461.84 466.21,462.74 467.18,463.62 468.16,464.48 469.14,465.31 470.11,466.13 471.09,466.91 472.07,467.68 473.04,468.43 474.02,469.15 475,469.86 475.97,470.54 476.95,471.21 477.93,471.86 478.91,472.49 479.88,473.11 480.86,473.7 481.84,474.28 482.81,474.85 483.79,475.4 484.77,475.93 485.74,476.45 486.72,476.96 487.7,477.45 488.67,477.93 489.65,478.39 490.63,478.84 491.61,479.28 492.58,479.71 493.56,480.12 494.54,480.53 495.51,480.92 496.49,481.31 497.47,481.68 498.44,482.04 499.42,482.39 500.4,482.73 501.38,483.07 502.35,483.39 503.33,483.7 504.31,484.01 505.28,484.31 506.26,484.6 507.24,484.88 508.21,485.15 509.19,485.42 510.17,485.68 511.14,485.93 512.12,486.17 513.1,486.41 514.08,486.64 515.05,486.87 516.03,487.09 517.01,487.3 517.98,487.51 518.96,487.71 519.94,487.91 520.91,488.1 521.89,488.28 522.87,488.46 523.84,488.64 524.82,488.81 525.8,488.98 526.78,489.14 527.75,489.29 528.73,489.45 529.71,489.6 530.68,489.74 531.66,489.88 532.64,490.02 533.61,490.15 534.59,490.28 535.57,490.4 536.54,490.53 537.52,490.65 538.5,490.76 539.48,490.87 540.45,490.98 541.43,491.09 542.41,491.19 543.38,491.29 544.36,491.39 545.34,491.49 546.31,491.58 547.29,491.67 548.27,491.76 549.24,491.84 550.22,491.92 551.2,492 552.18,492.08 553.15,492.16 554.13,492.23 555.11,492.3 556.08,492.37 557.06,492.44 558.04,492.51 559.01,492.57 559.99,492.64 560.97,492.7 561.94,492.76 562.92,492.81 563.9,492.87 564.88,492.92 565.85,492.98 566.83,493.03 567.81,493.08 568.78,493.13 569.76,493.18 570.74,493.22 571.71,493.27 572.69,493.31 573.67,493.35 574.65,493.39 575.62,493.43 576.6,493.47 577.58,493.51 578.55,493.55 579.53,493.58 580.51,493.62 581.48,493.65 582.46,493.69 583.44,493.72 584.41,493.75 585.39,493.78 586.37,493.81 587.35,493.84 588.32,493.87 589.3,493.89 590.28,493.92 591.25,493.94 592.23,493.97 593.21,493.99 594.18,494.02 595.16,494.04 596.14,494.06 597.11,494.08 598.09,494.11 599.07,494.13 600.05,494.15 601.02,494.17 602,494.18 602.98,494.2 603.95,494.22 604.93,494.24 605.91,494.26 606.88,494.27 607.86,494.29 608.84,494.3 609.81,494.32 610.79,494.33 611.77,494.35 612.75,494.36 613.72,494.37 614.7,494.39 615.68,494.4 616.65,494.41 617.63,494.43 618.61,494.44 619.58,494.45 620.56,494.46 621.54,494.47 622.51,494.48 623.49,494.49 624.47,494.5 625.45,494.51 626.42,494.52 627.4,494.53 628.38,494.54 629.35,494.55 630.33,494.56 631.31,494.56 632.28,494.57 633.26,494.58 634.24,494.59 635.21,494.59 636.19,494.6 637.17,494.61 638.15,494.62 639.12,494.62 640.1,494.63 641.08,494.63 642.05,494.64 643.03,494.65 644.01,494.65 644.98,494.66 645.96,494.66 646.94,494.67 647.92,494.67 648.89,494.68 649.87,494.68 650.85,494.69 651.82,494.69 652.8,494.7 653.78,494.7 654.75,494.71 655.73,494.71 656.71,494.71 657.68,494.72 658.66,494.72 659.64,494.73 660.62,494.73 661.59,494.73 662.57,494.74 663.55,494.74 664.52,494.74 665.5,494.75 666.48,494.75 667.45,494.75 668.43,494.75 669.41,494.76 670.38,494.76 671.36,494.76 672.34,494.76 673.32,494.77 674.29,494.77 675.27,494.77 676.25,494.77 677.22,494.78 678.2,494.78" fill="none" stroke="#ff7f0e" stroke-width="1.4" stroke-linejoin="round"/>
</g>
<rect x="385.5" y="273.5" width="293" height="227" fill="none" stroke="#4a4a4a" stroke-width="1"/>
<line x1="419.6" y1="500.5" x2="419.6" y2="504" stroke="#333" stroke-width="0.9" />
<text x="419.6" y="513.8" font-size="11.23" text-anchor="middle" textLength="6.87" lengthAdjust="spacingAndGlyphs" >4</text>
<line x1="462.7" y1="500.5" x2="462.7" y2="504" stroke="#333" stroke-width="0.9" />
<text x="462.7" y="513.8" font-size="11.23" text-anchor="middle" textLength="6.87" lengthAdjust="spacingAndGlyphs" >5</text>
<line x1="505.8" y1="500.5" x2="505.8" y2="504" stroke="#333" stroke-width="0.9" />
<text x="505.8" y="513.8" font-size="11.23" text-anchor="middle" textLength="6.87" lengthAdjust="spacingAndGlyphs" >6</text>
<line x1="548.9" y1="500.5" x2="548.9" y2="504" stroke="#333" stroke-width="0.9" />
<text x="548.9" y="513.8" font-size="11.23" text-anchor="middle" textLength="6.87" lengthAdjust="spacingAndGlyphs" >7</text>
<line x1="592" y1="500.5" x2="592" y2="504" stroke="#333" stroke-width="0.9" />
<text x="592" y="513.8" font-size="11.23" text-anchor="middle" textLength="6.87" lengthAdjust="spacingAndGlyphs" >8</text>
<line x1="635.1" y1="500.5" x2="635.1" y2="504" stroke="#333" stroke-width="0.9" />
<text x="635.1" y="513.8" font-size="11.23" text-anchor="middle" textLength="6.87" lengthAdjust="spacingAndGlyphs" >9</text>
<line x1="678.2" y1="500.5" x2="678.2" y2="504" stroke="#333" stroke-width="0.9" />
<text x="678.2" y="513.8" font-size="11.23" text-anchor="middle" textLength="13.74" lengthAdjust="spacingAndGlyphs" >10</text>
<line x1="382.3" y1="495.1" x2="385.5" y2="495.1" stroke="#333" stroke-width="0.9" />
<text x="379.9" y="499.1" font-size="11.23" text-anchor="end" textLength="17.18" lengthAdjust="spacingAndGlyphs" >0.0</text>
<line x1="382.3" y1="446.1" x2="385.5" y2="446.1" stroke="#333" stroke-width="0.9" />
<text x="379.9" y="450.1" font-size="11.23" text-anchor="end" textLength="17.18" lengthAdjust="spacingAndGlyphs" >0.1</text>
<line x1="382.3" y1="397.1" x2="385.5" y2="397.1" stroke="#333" stroke-width="0.9" />
<text x="379.9" y="401.1" font-size="11.23" text-anchor="end" textLength="17.18" lengthAdjust="spacingAndGlyphs" >0.2</text>
<line x1="382.3" y1="348.1" x2="385.5" y2="348.1" stroke="#333" stroke-width="0.9" />
<text x="379.9" y="352.1" font-size="11.23" text-anchor="end" textLength="17.18" lengthAdjust="spacingAndGlyphs" >0.3</text>
<line x1="382.3" y1="299.1" x2="385.5" y2="299.1" stroke="#333" stroke-width="0.9" />
<text x="379.9" y="303.1" font-size="11.23" text-anchor="end" textLength="17.18" lengthAdjust="spacingAndGlyphs" >0.4</text>
<text x="404.6" y="288.7" font-size="13" >(d)</text>
<rect x="614.2" y="279.4" width="58" height="34.6" rx="2" fill="#fff" fill-opacity="0.8" stroke="#d8d8d8" stroke-width="1"/>
<circle cx="629" cy="287.8" r="2.85" fill="#1f77b4"/>
<line x1="618" y1="303.2" x2="640.4" y2="303.2" stroke="#ff7f0e" stroke-width="1.3" />
<text x="496.68" y="528.9" font-size="11" textLength="54.64" lengthAdjust="spacingAndGlyphs">1000/T [K</text>
<text x="551.32" y="524.2" font-size="7.7" textLength="11.61" lengthAdjust="spacingAndGlyphs">−1</text>
<text x="562.93" y="528.9" font-size="11">]</text>
<text transform="translate(357.3,442.9) rotate(-90)" font-size="11" textLength="113.6" lengthAdjust="spacingAndGlyphs">Intensity Ratio (I<tspan font-size="7.4" dy="1.7">2</tspan><tspan dy="-1.7">/I</tspan><tspan font-size="7.4" dy="1.7">1</tspan><tspan dy="-1.7">)</tspan></text>
<text x="648.6" y="291.9" font-size="11.4" textLength="20.2" lengthAdjust="spacingAndGlyphs">I<tspan font-size="8" dy="2.2">2</tspan><tspan dy="-2.2">/I</tspan><tspan font-size="8" dy="2.2">1</tspan></text>
<text x="648.5" y="307.1" font-size="11.23" textLength="12.66" lengthAdjust="spacingAndGlyphs" >Fit</text>
</svg></body></html>
